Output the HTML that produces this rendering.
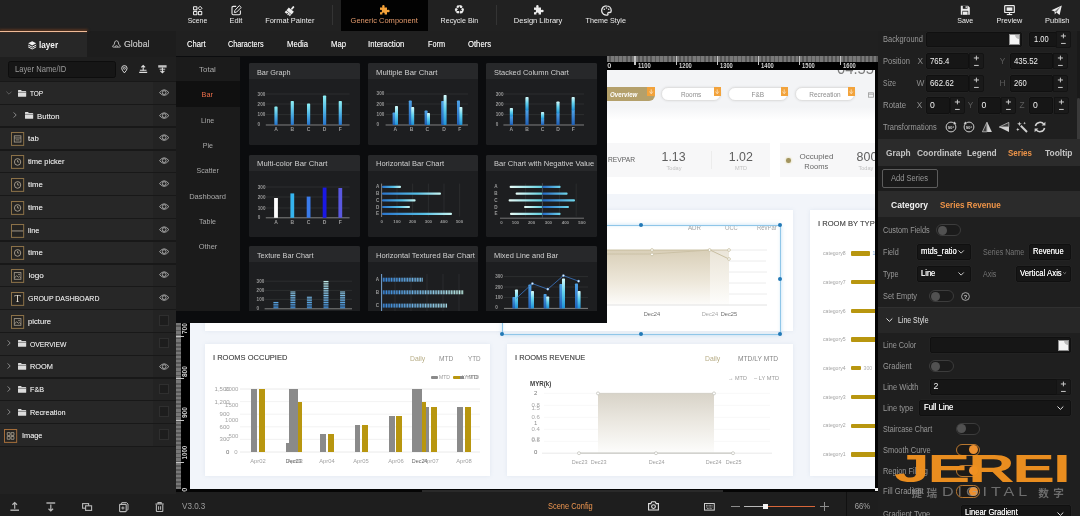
<!DOCTYPE html>
<html lang="en"><head><meta charset="utf-8"><title>Scene Editor</title>
<style>
html,body{margin:0;padding:0;}
body{width:1080px;height:516px;overflow:hidden;position:relative;background:#212121;font-family:"Liberation Sans", "Noto Sans CJK SC", sans-serif;}
div,svg{position:absolute;box-sizing:border-box;}
.t{white-space:nowrap;}
svg{overflow:visible;}
#app{left:0;top:0;width:1080px;height:516px;overflow:hidden;will-change:transform;}
</style></head><body><div id="app">
<!-- s_canvas -->
<div style="left:176px;top:56px;width:702px;height:438px;background:#050505;"></div>
<div style="left:607px;top:56px;width:271px;height:14px;background:#000;"></div>
<div style="left:607px;top:56px;width:271px;height:6px;background:repeating-linear-gradient(90deg,#787878 0,#787878 2.4px,#585858 2.4px,#585858 4.105px);"></div>
<div class="t" style="top:60.85px;font-size:7.3px;line-height:9.5px;color:#d0d0d0;font-weight:700;left:607.2px;">0</div>
<div style="left:634.45px;top:56px;width:1.2px;height:8.6px;background:#c4c4c4;"></div>
<div class="t" style="top:60.85px;font-size:7.3px;line-height:9.5px;color:#d0d0d0;font-weight:700;left:637.65px;"><span style="display:inline-block;transform:scaleX(0.81);transform-origin:0 50%;">1100</span></div>
<div style="left:675.5px;top:56px;width:1.2px;height:8.6px;background:#c4c4c4;"></div>
<div class="t" style="top:60.85px;font-size:7.3px;line-height:9.5px;color:#d0d0d0;font-weight:700;left:678.7px;"><span style="display:inline-block;transform:scaleX(0.79);transform-origin:0 50%;">1200</span></div>
<div style="left:716.55px;top:56px;width:1.2px;height:8.6px;background:#c4c4c4;"></div>
<div class="t" style="top:60.85px;font-size:7.3px;line-height:9.5px;color:#d0d0d0;font-weight:700;left:719.75px;"><span style="display:inline-block;transform:scaleX(0.79);transform-origin:0 50%;">1300</span></div>
<div style="left:757.6px;top:56px;width:1.2px;height:8.6px;background:#c4c4c4;"></div>
<div class="t" style="top:60.85px;font-size:7.3px;line-height:9.5px;color:#d0d0d0;font-weight:700;left:760.8px;"><span style="display:inline-block;transform:scaleX(0.79);transform-origin:0 50%;">1400</span></div>
<div style="left:798.65px;top:56px;width:1.2px;height:8.6px;background:#c4c4c4;"></div>
<div class="t" style="top:60.85px;font-size:7.3px;line-height:9.5px;color:#d0d0d0;font-weight:700;left:801.85px;"><span style="display:inline-block;transform:scaleX(0.79);transform-origin:0 50%;">1500</span></div>
<div style="left:839.7px;top:56px;width:1.2px;height:8.6px;background:#c4c4c4;"></div>
<div class="t" style="top:60.85px;font-size:7.3px;line-height:9.5px;color:#d0d0d0;font-weight:700;left:842.9px;"><span style="display:inline-block;transform:scaleX(0.79);transform-origin:0 50%;">1600</span></div>
<div style="left:880.75px;top:56px;width:1.2px;height:8.6px;background:#c4c4c4;"></div>
<div class="t" style="top:60.85px;font-size:7.3px;line-height:9.5px;color:#d0d0d0;font-weight:700;left:883.95px;"><span style="display:inline-block;transform:scaleX(0.79);transform-origin:0 50%;">1700</span></div>
<div style="left:190px;top:70px;width:685px;height:419px;overflow:hidden;"><div style="left:-190px;top:-70px;width:1080px;height:516px;"><div style="left:190px;top:70px;width:690px;height:420px;background:#f2f5fa;"></div>
<div style="left:190px;top:70px;width:690px;height:124px;background:#ffffff;"></div>
<div style="left:190px;top:70px;width:690px;height:50px;background:linear-gradient(180deg,#f3f4f6 0,#f3f4f6 74%,#ffffff 100%);"></div>
<div class="t" style="top:57.75px;font-size:17px;line-height:22.1px;color:#7a7a7a;left:837px;"><span style="display:inline-block;transform:scaleX(0.87);transform-origin:0 50%;">04:55</span></div>
<div style="left:540px;top:87px;width:114.6px;height:13.6px;background:#b4a06b;border-radius:0 4px 6px 0;"></div>
<div class="t" style="top:89.75px;font-size:7px;line-height:9.1px;color:#ffffff;font-weight:700;left:610.4px;font-style:italic;"><span style="display:inline-block;transform:scaleX(0.88);transform-origin:0 50%;">Overview</span></div>
<div style="left:647px;top:87px;width:7.6px;height:9px;background:#f2a33c;"><svg style="left:1.6px;top:1.6px;" width="4.4" height="5.6" viewBox="0 0 4.4 5.6"><path d="M2.2 0.4V3.6M0.6 2.6L2.2 4.8L3.8 2.6" fill="none" stroke="#fff" stroke-width="1" opacity="0.6"/></svg></div>
<div style="left:661px;top:87px;width:60.4px;height:13.6px;background:#ffffff;border:1px solid #e0e0e0;border-radius:7px;box-shadow:0 0 2.5px rgba(0,0,0,0.1);"></div>
<div class="t" style="top:89.75px;font-size:7px;line-height:9.1px;color:#8e8e8e;left:490.8px;width:400px;text-align:center;"><span style="display:inline-block;transform:scaleX(0.92);transform-origin:50% 50%;">Rooms</span></div>
<div style="left:713.6px;top:87px;width:7.6px;height:9px;background:#f2a33c;"><svg style="left:1.6px;top:1.6px;" width="4.4" height="5.6" viewBox="0 0 4.4 5.6"><path d="M2.2 0.4V3.6M0.6 2.6L2.2 4.8L3.8 2.6" fill="none" stroke="#fff" stroke-width="1" opacity="0.6"/></svg></div>
<div style="left:728px;top:87px;width:60.4px;height:13.6px;background:#ffffff;border:1px solid #e0e0e0;border-radius:7px;box-shadow:0 0 2.5px rgba(0,0,0,0.1);"></div>
<div class="t" style="top:89.75px;font-size:7px;line-height:9.1px;color:#8e8e8e;left:557.8px;width:400px;text-align:center;"><span style="display:inline-block;transform:scaleX(0.93);transform-origin:50% 50%;">F&amp;B</span></div>
<div style="left:780.6px;top:87px;width:7.6px;height:9px;background:#f2a33c;"><svg style="left:1.6px;top:1.6px;" width="4.4" height="5.6" viewBox="0 0 4.4 5.6"><path d="M2.2 0.4V3.6M0.6 2.6L2.2 4.8L3.8 2.6" fill="none" stroke="#fff" stroke-width="1" opacity="0.6"/></svg></div>
<div style="left:795px;top:87px;width:60.4px;height:13.6px;background:#ffffff;border:1px solid #e0e0e0;border-radius:7px;box-shadow:0 0 2.5px rgba(0,0,0,0.1);"></div>
<div class="t" style="top:89.75px;font-size:7px;line-height:9.1px;color:#8e8e8e;left:625.2px;width:400px;text-align:center;"><span style="display:inline-block;transform:scaleX(0.93);transform-origin:50% 50%;">Recreation</span></div>
<div style="left:847.6px;top:87px;width:7.6px;height:9px;background:#f2a33c;"><svg style="left:1.6px;top:1.6px;" width="4.4" height="5.6" viewBox="0 0 4.4 5.6"><path d="M2.2 0.4V3.6M0.6 2.6L2.2 4.8L3.8 2.6" fill="none" stroke="#fff" stroke-width="1" opacity="0.6"/></svg></div>
<svg style="left:868.4px;top:91.6px;" width="6" height="5.6" viewBox="0 0 6 5.6"><rect x="0.4" y="0.8" width="5.2" height="4.4" fill="none" stroke="#9a9a9a" stroke-width="0.8"/><path d="M0.4 2.2H5.6" stroke="#9a9a9a" stroke-width="0.8"/></svg>
<div style="left:520px;top:142.6px;width:250px;height:34.4px;background:#f7f7f8;"></div>
<div class="t" style="top:155.45px;font-size:7.6px;line-height:9.9px;color:#5c5c5c;left:607.6px;"><span style="display:inline-block;transform:scaleX(0.88);transform-origin:0 50%;">REVPAR</span></div>
<div class="t" style="top:148.95px;font-size:12.4px;line-height:16.1px;color:#5e5e5e;left:473.6px;width:400px;text-align:center;">1.13</div>
<div class="t" style="top:164.95px;font-size:5.6px;line-height:7.3px;color:#c2c2c2;left:474px;width:400px;text-align:center;">Today</div>
<div style="left:711px;top:151px;width:1px;height:18px;background:#ececec;"></div>
<div class="t" style="top:148.95px;font-size:12.4px;line-height:16.1px;color:#5e5e5e;left:540.8px;width:400px;text-align:center;">1.02</div>
<div class="t" style="top:164.95px;font-size:5.6px;line-height:7.3px;color:#c2c2c2;left:541px;width:400px;text-align:center;">MTD</div>
<div style="left:780px;top:142.6px;width:100px;height:34.4px;background:#f7f7f8;"></div>
<div style="left:786.2px;top:158.2px;width:4.6px;height:4.6px;background:#a2945f;border-radius:50%;box-shadow:0 0 2px 0.5px #e6dfb8;"></div>
<div class="t" style="top:152.15px;font-size:7.8px;line-height:10.1px;color:#686868;left:616.6px;width:400px;text-align:center;"><span style="display:inline-block;transform:scaleX(1.03);transform-origin:50% 50%;">Occupied</span></div>
<div class="t" style="top:162.15px;font-size:7.8px;line-height:10.1px;color:#686868;left:616.6px;width:400px;text-align:center;"><span style="display:inline-block;transform:scaleX(0.97);transform-origin:50% 50%;">Rooms</span></div>
<div class="t" style="top:148.95px;font-size:12.4px;line-height:16.1px;color:#5e5e5e;left:856.6px;">800</div>
<div class="t" style="top:164.95px;font-size:5.6px;line-height:7.3px;color:#c2c2c2;left:858.4px;">Today</div>
<div style="left:205px;top:210px;width:588px;height:121px;background:#ffffff;box-shadow:0 0 4px rgba(150,170,200,0.18);"></div>
<svg style="left:560px;top:240px;" width="215" height="70" viewBox="0 0 215 70"><defs><linearGradient id="ga" x1="0" y1="0" x2="0" y2="1"><stop offset="0" stop-color="#d9cfb8"/><stop offset="0.55" stop-color="#ece6d8"/><stop offset="1" stop-color="#fdfcfa"/></linearGradient></defs><path d="M169 10H207M169 21H206M169 32H207M169 43H206M169 54H207" stroke="#ececec" stroke-width="1"/><path d="M0 10H150V65H0Z" fill="url(#ga)"/><path d="M150 10L169 10L169 65H150Z" fill="url(#ga)" opacity="0.55"/><path d="M47 65H207" stroke="#e2e2e2" stroke-width="1"/><path d="M0 10H150L169 19" fill="none" stroke="#c5bb9c" stroke-width="0.9"/><path d="M0 14H92L150 10L169 10" fill="none" stroke="#c9c0a4" stroke-width="0.9"/><g fill="#fff" stroke="#c2b998" stroke-width="0.7"><circle cx="92" cy="10" r="1.4"/><circle cx="92" cy="14.4" r="1.4"/><circle cx="149.6" cy="10" r="1.4"/><circle cx="169" cy="10" r="1.4"/><circle cx="169" cy="19" r="1.4"/></g></svg>
<div class="t" style="top:224.15px;font-size:6.4px;line-height:8.3px;color:#a4a4a4;left:688.4px;"><span style="display:inline-block;transform:scaleX(0.96);transform-origin:0 50%;">ADR</span></div>
<div class="t" style="top:224.15px;font-size:6.4px;line-height:8.3px;color:#a4a4a4;left:725px;"><span style="display:inline-block;transform:scaleX(0.89);transform-origin:0 50%;">OCC</span></div>
<div class="t" style="top:224.15px;font-size:6.4px;line-height:8.3px;color:#a4a4a4;left:757px;"><span style="display:inline-block;transform:scaleX(0.92);transform-origin:0 50%;">RevPar</span></div>
<div class="t" style="top:309.95px;font-size:6.2px;line-height:8.1px;color:#6e6e6e;left:452px;width:400px;text-align:center;"><span style="display:inline-block;transform:scaleX(0.92);transform-origin:50% 50%;">Dec24</span></div>
<div class="t" style="top:309.95px;font-size:6.2px;line-height:8.1px;color:#a8a8a8;left:509.6px;width:400px;text-align:center;"><span style="display:inline-block;transform:scaleX(0.92);transform-origin:50% 50%;">Dec24</span></div>
<div class="t" style="top:309.95px;font-size:6.2px;line-height:8.1px;color:#6e6e6e;left:529px;width:400px;text-align:center;"><span style="display:inline-block;transform:scaleX(0.92);transform-origin:50% 50%;">Dec25</span></div>
<div style="left:502px;top:224.6px;width:278.6px;height:110px;border:1px solid #8fc6e8;box-shadow:0 0 4px rgba(130,190,232,0.5), inset 0 0 3px rgba(130,190,232,0.3);"></div>
<div style="left:639.2px;top:223px;width:4px;height:4px;background:#2279b6;border-radius:50%;"></div>
<div style="left:778.2px;top:223px;width:4px;height:4px;background:#2279b6;border-radius:50%;"></div>
<div style="left:778.2px;top:277.4px;width:4px;height:4px;background:#2279b6;border-radius:50%;"></div>
<div style="left:778.2px;top:332.2px;width:4px;height:4px;background:#2279b6;border-radius:50%;"></div>
<div style="left:639.2px;top:332.2px;width:4px;height:4px;background:#2279b6;border-radius:50%;"></div>
<div style="left:500.4px;top:332.2px;width:4px;height:4px;background:#2279b6;border-radius:50%;"></div>
<div style="left:810px;top:210px;width:80px;height:266.4px;background:#ffffff;box-shadow:0 0 4px rgba(150,170,200,0.18);"></div>
<div class="t" style="top:219.1px;font-size:8px;line-height:10.4px;color:#555555;left:817.6px;text-shadow:0 0 0.4px rgba(85,85,85,0.7);"><span style="display:inline-block;transform:scaleX(0.95);transform-origin:0 50%;">I ROOM BY TYPE</span></div>
<div class="t" style="top:250.15px;font-size:5.8px;line-height:7.5px;color:#a4a4a4;left:823px;"><span style="display:inline-block;transform:scaleX(0.89);transform-origin:0 50%;">category8</span></div>
<div style="left:851px;top:251.2px;width:19.4px;height:4.4px;background:#b8960f;border-radius:1px;"></div>
<div class="t" style="top:249.8px;font-size:5.2px;line-height:6.8px;color:#7fa6d8;left:872.4px;">1</div>
<div class="t" style="top:278.87px;font-size:5.8px;line-height:7.5px;color:#a4a4a4;left:823px;"><span style="display:inline-block;transform:scaleX(0.89);transform-origin:0 50%;">category7</span></div>
<div style="left:851px;top:279.92px;width:40px;height:4.4px;background:#b8960f;border-radius:1px;"></div>
<div class="t" style="top:307.59px;font-size:5.8px;line-height:7.5px;color:#a4a4a4;left:823px;"><span style="display:inline-block;transform:scaleX(0.89);transform-origin:0 50%;">category6</span></div>
<div style="left:851px;top:308.64px;width:40px;height:4.4px;background:#b8960f;border-radius:1px;"></div>
<div class="t" style="top:336.31px;font-size:5.8px;line-height:7.5px;color:#a4a4a4;left:823px;"><span style="display:inline-block;transform:scaleX(0.89);transform-origin:0 50%;">category5</span></div>
<div style="left:851px;top:337.36px;width:40px;height:4.4px;background:#b8960f;border-radius:1px;"></div>
<div class="t" style="top:365.03px;font-size:5.8px;line-height:7.5px;color:#a4a4a4;left:823px;"><span style="display:inline-block;transform:scaleX(0.89);transform-origin:0 50%;">category4</span></div>
<div style="left:851px;top:366.08px;width:10.4px;height:4.4px;background:#b8960f;border-radius:1px;"></div>
<div class="t" style="top:364.68px;font-size:5.2px;line-height:6.8px;color:#b0b0b0;left:863.6px;">300</div>
<div class="t" style="top:393.75px;font-size:5.8px;line-height:7.5px;color:#a4a4a4;left:823px;"><span style="display:inline-block;transform:scaleX(0.89);transform-origin:0 50%;">category3</span></div>
<div style="left:851px;top:394.8px;width:40px;height:4.4px;background:#b8960f;border-radius:1px;"></div>
<div class="t" style="top:422.47px;font-size:5.8px;line-height:7.5px;color:#a4a4a4;left:823px;"><span style="display:inline-block;transform:scaleX(0.89);transform-origin:0 50%;">category2</span></div>
<div style="left:851px;top:423.52px;width:40px;height:4.4px;background:#b8960f;border-radius:1px;"></div>
<div class="t" style="top:451.19px;font-size:5.8px;line-height:7.5px;color:#a4a4a4;left:823px;"><span style="display:inline-block;transform:scaleX(0.89);transform-origin:0 50%;">category1</span></div>
<div style="left:851px;top:452.24px;width:40px;height:4.4px;background:#b8960f;border-radius:1px;"></div>
<div style="left:205px;top:344px;width:285px;height:132.4px;background:#ffffff;box-shadow:0 0 4px rgba(150,170,200,0.18);"></div>
<div class="t" style="top:353.1px;font-size:8px;line-height:10.4px;color:#555555;left:212.8px;text-shadow:0 0 0.4px rgba(85,85,85,0.7);"><span style="display:inline-block;transform:scaleX(0.94);transform-origin:0 50%;">I ROOMS OCCUPIED</span></div>
<div class="t" style="top:354.6px;font-size:6.8px;line-height:8.8px;color:#b7ad86;left:410px;"><span>Daily</span></div>
<div class="t" style="top:354.6px;font-size:6.8px;line-height:8.8px;color:#8e8e8e;left:438.6px;"><span style="display:inline-block;transform:scaleX(0.98);transform-origin:0 50%;">MTD</span></div>
<div class="t" style="top:354.6px;font-size:6.8px;line-height:8.8px;color:#8e8e8e;left:468px;"><span style="display:inline-block;transform:scaleX(0.93);transform-origin:0 50%;">YTD</span></div>
<div style="left:431px;top:375.6px;width:7.4px;height:3px;background:#8a8a8a;border-radius:1px;"></div>
<div class="t" style="top:373.55px;font-size:5.6px;line-height:7.3px;color:#9a9a9a;left:439.4px;"><span style="display:inline-block;transform:scaleX(0.91);transform-origin:0 50%;">MTD</span></div>
<div style="left:453px;top:375.6px;width:8.4px;height:3px;background:#b8960f;border-radius:1px;"></div>
<div style="left:460px;top:375.8px;width:3.6px;height:2.8px;background:#8a8a8a;"></div>
<div class="t" style="top:373.55px;font-size:5.6px;line-height:7.3px;color:#8a8a8a;left:462.4px;"><span style="display:inline-block;transform:scaleX(0.85);transform-origin:0 50%;">LY MTD</span></div>
<div class="t" style="top:373.75px;font-size:5.6px;line-height:7.3px;color:#8a8a8a;left:465.8px;"><span style="display:inline-block;transform:scaleX(1.07);transform-origin:0 50%;">YTD</span></div>
<svg style="left:0px;top:0px;" width="1" height="1" viewBox="0 0 1 1"><path d="M240 389H480" stroke="#e4e4e4" stroke-width="0.8"/><path d="M240 401.6H480" stroke="#efefef" stroke-width="0.8"/><path d="M240 414.2H480" stroke="#efefef" stroke-width="0.8"/><path d="M240 426.8H480" stroke="#efefef" stroke-width="0.8"/><path d="M240 439.4H480" stroke="#efefef" stroke-width="0.8"/><path d="M240 452H480" stroke="#e4e4e4" stroke-width="0.8"/></svg>
<div class="t" style="top:385.7px;font-size:6px;line-height:7.8px;color:#9c9c9c;left:-170.4px;width:400px;text-align:right;">1,500</div>
<div class="t" style="top:398.7px;font-size:6px;line-height:7.8px;color:#9c9c9c;left:-170.4px;width:400px;text-align:right;">1,200</div>
<div class="t" style="top:411.3px;font-size:6px;line-height:7.8px;color:#9c9c9c;left:-170.4px;width:400px;text-align:right;">900</div>
<div class="t" style="top:423.9px;font-size:6px;line-height:7.8px;color:#9c9c9c;left:-170.4px;width:400px;text-align:right;">600</div>
<div class="t" style="top:436.3px;font-size:6px;line-height:7.8px;color:#9c9c9c;left:-170.4px;width:400px;text-align:right;">300</div>
<div class="t" style="top:385.5px;font-size:6px;line-height:7.8px;color:#a6a6a6;left:-161.6px;width:400px;text-align:right;">2000</div>
<div class="t" style="top:401.7px;font-size:6px;line-height:7.8px;color:#a6a6a6;left:-161.6px;width:400px;text-align:right;">1500</div>
<div class="t" style="top:417.3px;font-size:6px;line-height:7.8px;color:#a6a6a6;left:-161.6px;width:400px;text-align:right;">1000</div>
<div class="t" style="top:432.7px;font-size:6px;line-height:7.8px;color:#a6a6a6;left:-161.6px;width:400px;text-align:right;">500</div>
<div class="t" style="top:449.1px;font-size:6px;line-height:7.8px;color:#6a6a6a;left:-170.6px;width:400px;text-align:right;">0</div>
<div class="t" style="top:449.1px;font-size:6px;line-height:7.8px;color:#a6a6a6;left:-162.4px;width:400px;text-align:right;">0</div>
<div style="left:251.3px;top:389px;width:6.2px;height:63.2px;background:#8a8a8a;"></div>
<div style="left:259.2px;top:389px;width:6px;height:63.2px;background:#b8960f;"></div>
<div style="left:286px;top:443px;width:3.4px;height:9.2px;background:#8a8a8a;"></div>
<div style="left:289px;top:389px;width:9.2px;height:63.2px;background:#8a8a8a;"></div>
<div style="left:297.8px;top:402px;width:4px;height:50.2px;background:#b8960f;"></div>
<div style="left:320px;top:434px;width:6px;height:18.2px;background:#8a8a8a;"></div>
<div style="left:328px;top:434px;width:6px;height:18.2px;background:#b8960f;"></div>
<div style="left:354.6px;top:425px;width:5.8px;height:27.2px;background:#8a8a8a;"></div>
<div style="left:362.2px;top:425px;width:5.8px;height:27.2px;background:#b8960f;"></div>
<div style="left:388.8px;top:416px;width:5.8px;height:36.2px;background:#8a8a8a;"></div>
<div style="left:396.4px;top:416px;width:5.8px;height:36.2px;background:#b8960f;"></div>
<div style="left:412.4px;top:389px;width:9.8px;height:63.2px;background:#8a8a8a;"></div>
<div style="left:421.8px;top:402px;width:4.2px;height:50.2px;background:#b8960f;"></div>
<div style="left:425.6px;top:407px;width:3.4px;height:45.2px;background:#8a8a8a;"></div>
<div style="left:431px;top:407px;width:5.6px;height:45.2px;background:#b8960f;"></div>
<div style="left:457.4px;top:407px;width:5.8px;height:45.2px;background:#8a8a8a;"></div>
<div style="left:465px;top:407px;width:6px;height:45.2px;background:#b8960f;"></div>
<div class="t" style="top:457.7px;font-size:6px;line-height:7.8px;color:#a2a2a2;left:58px;width:400px;text-align:center;"><span style="display:inline-block;transform:scaleX(0.97);transform-origin:50% 50%;">Apr02</span></div>
<div class="t" style="top:457.7px;font-size:6px;line-height:7.8px;color:#666;left:93.4px;width:400px;text-align:center;"><span style="display:inline-block;transform:scaleX(0.9);transform-origin:50% 50%;">Dec23</span></div>
<div class="t" style="top:457.7px;font-size:6px;line-height:7.8px;color:#9a9a9a;left:95.4px;width:400px;text-align:center;"><span style="display:inline-block;transform:scaleX(0.97);transform-origin:50% 50%;">Apr03</span></div>
<div class="t" style="top:457.7px;font-size:6px;line-height:7.8px;color:#a2a2a2;left:127.2px;width:400px;text-align:center;"><span style="display:inline-block;transform:scaleX(0.97);transform-origin:50% 50%;">Apr04</span></div>
<div class="t" style="top:457.7px;font-size:6px;line-height:7.8px;color:#a2a2a2;left:161.4px;width:400px;text-align:center;"><span style="display:inline-block;transform:scaleX(0.97);transform-origin:50% 50%;">Apr05</span></div>
<div class="t" style="top:457.7px;font-size:6px;line-height:7.8px;color:#a2a2a2;left:195.6px;width:400px;text-align:center;"><span style="display:inline-block;transform:scaleX(0.97);transform-origin:50% 50%;">Apr06</span></div>
<div class="t" style="top:457.7px;font-size:6px;line-height:7.8px;color:#666;left:219.6px;width:400px;text-align:center;"><span style="display:inline-block;transform:scaleX(0.9);transform-origin:50% 50%;">Dec24</span></div>
<div class="t" style="top:457.7px;font-size:6px;line-height:7.8px;color:#a2a2a2;left:230.6px;width:400px;text-align:center;"><span style="display:inline-block;transform:scaleX(0.97);transform-origin:50% 50%;">Apr07</span></div>
<div class="t" style="top:457.7px;font-size:6px;line-height:7.8px;color:#a2a2a2;left:264.2px;width:400px;text-align:center;"><span style="display:inline-block;transform:scaleX(0.97);transform-origin:50% 50%;">Apr08</span></div>
<div style="left:507.4px;top:344px;width:285.6px;height:132.4px;background:#ffffff;box-shadow:0 0 4px rgba(150,170,200,0.18);"></div>
<div class="t" style="top:353.1px;font-size:8px;line-height:10.4px;color:#555555;left:515.2px;text-shadow:0 0 0.4px rgba(85,85,85,0.7);"><span style="display:inline-block;transform:scaleX(0.93);transform-origin:0 50%;">I ROOMS REVENUE</span></div>
<div class="t" style="top:354.6px;font-size:6.8px;line-height:8.8px;color:#b7ad86;left:705px;"><span>Daily</span></div>
<div class="t" style="top:354.6px;font-size:6.8px;line-height:8.8px;color:#858585;left:737.8px;"><span style="display:inline-block;transform:scaleX(0.98);transform-origin:0 50%;">MTD/LY MTD</span></div>
<div class="t" style="top:375.45px;font-size:5.8px;line-height:7.5px;color:#9a9a9a;left:728.2px;"><span style="display:inline-block;transform:scaleX(0.95);transform-origin:0 50%;">→ MTD</span></div>
<div class="t" style="top:375.45px;font-size:5.8px;line-height:7.5px;color:#9a9a9a;left:754.4px;"><span style="display:inline-block;transform:scaleX(0.98);transform-origin:0 50%;">– LY MTD</span></div>
<div class="t" style="top:379.9px;font-size:6.8px;line-height:8.8px;color:#404040;font-weight:700;left:530px;"><span style="display:inline-block;transform:scaleX(0.91);transform-origin:0 50%;">MYR(k)</span></div>
<svg style="left:520px;top:385px;" width="260" height="75" viewBox="0 0 260 75"><defs><linearGradient id="gb" x1="0" y1="0" x2="0" y2="1"><stop offset="0" stop-color="#d8d3c8"/><stop offset="0.5" stop-color="#ece9e2"/><stop offset="1" stop-color="#fdfdfc"/></linearGradient></defs><path d="M24 8.4H250M24 20.4H250M24 32.4H250M24 44.4H250M24 56.4H250" stroke="#f6f6f6" stroke-width="0.8"/><path d="M78 8.4H194V68.2H78Z" fill="url(#gb)"/><path d="M22 68.2H252" stroke="#e6e6e6" stroke-width="0.9"/><path d="M59 68.2H213" stroke="#c9c9c3" stroke-width="1.2"/><path d="M78 8.4H194" stroke="#d3cfc6" stroke-width="1"/><g fill="#fff" stroke="#bdbdb6" stroke-width="0.7"><circle cx="59" cy="68.2" r="1.5"/><circle cx="136" cy="68.2" r="1.5"/><circle cx="213" cy="68.2" r="1.5"/><circle cx="78" cy="8.4" r="1.5"/><circle cx="194" cy="8.4" r="1.5"/></g></svg>
<div class="t" style="top:389.5px;font-size:6px;line-height:7.8px;color:#7a7a7a;left:335.6px;width:400px;text-align:center;">2</div>
<div class="t" style="top:402.3px;font-size:6px;line-height:7.8px;color:#a8a8a8;left:335.6px;width:400px;text-align:center;">0.8</div>
<div class="t" style="top:404.5px;font-size:6px;line-height:7.8px;color:#a8a8a8;left:335.6px;width:400px;text-align:center;">1.5</div>
<div class="t" style="top:414.1px;font-size:6px;line-height:7.8px;color:#a8a8a8;left:335.6px;width:400px;text-align:center;">0.6</div>
<div class="t" style="top:419.5px;font-size:6px;line-height:7.8px;color:#909090;left:335.6px;width:400px;text-align:center;">1</div>
<div class="t" style="top:425.7px;font-size:6px;line-height:7.8px;color:#a8a8a8;left:335.6px;width:400px;text-align:center;">0.4</div>
<div class="t" style="top:435.5px;font-size:6px;line-height:7.8px;color:#a8a8a8;left:335.6px;width:400px;text-align:center;">0.2</div>
<div class="t" style="top:437.3px;font-size:6px;line-height:7.8px;color:#a8a8a8;left:335.6px;width:400px;text-align:center;">0.5</div>
<div class="t" style="top:449.3px;font-size:6px;line-height:7.8px;color:#6a6a6a;left:335.6px;width:400px;text-align:center;">0</div>
<div class="t" style="top:458.5px;font-size:6px;line-height:7.8px;color:#9e9e9e;left:379.4px;width:400px;text-align:center;"><span style="display:inline-block;transform:scaleX(0.91);transform-origin:50% 50%;">Dec23</span></div>
<div class="t" style="top:458.5px;font-size:6px;line-height:7.8px;color:#9e9e9e;left:398.6px;width:400px;text-align:center;"><span style="display:inline-block;transform:scaleX(0.91);transform-origin:50% 50%;">Dec23</span></div>
<div class="t" style="top:458.5px;font-size:6px;line-height:7.8px;color:#9e9e9e;left:456.2px;width:400px;text-align:center;"><span style="display:inline-block;transform:scaleX(0.91);transform-origin:50% 50%;">Dec24</span></div>
<div class="t" style="top:458.5px;font-size:6px;line-height:7.8px;color:#9e9e9e;left:514px;width:400px;text-align:center;"><span style="display:inline-block;transform:scaleX(0.91);transform-origin:50% 50%;">Dec24</span></div>
<div class="t" style="top:458.5px;font-size:6px;line-height:7.8px;color:#9e9e9e;left:533.4px;width:400px;text-align:center;"><span style="display:inline-block;transform:scaleX(0.91);transform-origin:50% 50%;">Dec25</span></div></div></div>
<div style="left:176px;top:323px;width:14px;height:166.4px;background:#000;"></div>
<div style="left:176px;top:323px;width:5.4px;height:166.4px;background:repeating-linear-gradient(180deg,#787878 0,#787878 2.4px,#585858 2.4px,#585858 4.105px);"></div>
<div class="t" style="top:324.1px;font-size:7.4px;line-height:9.6px;color:#d0d0d0;font-weight:700;left:-14.6px;width:400px;text-align:center;transform:rotate(-90deg);transform-origin:50% 50%;"><span style="display:inline-block;transform:scaleX(0.88);transform-origin:50% 50%;">700</span></div>
<div class="t" style="top:366.5px;font-size:7.4px;line-height:9.6px;color:#d0d0d0;font-weight:700;left:-14.6px;width:400px;text-align:center;transform:rotate(-90deg);transform-origin:50% 50%;"><span style="display:inline-block;transform:scaleX(0.88);transform-origin:50% 50%;">800</span></div>
<div class="t" style="top:408.1px;font-size:7.4px;line-height:9.6px;color:#d0d0d0;font-weight:700;left:-14.6px;width:400px;text-align:center;transform:rotate(-90deg);transform-origin:50% 50%;"><span style="display:inline-block;transform:scaleX(0.88);transform-origin:50% 50%;">900</span></div>
<div class="t" style="top:448.4px;font-size:7.4px;line-height:9.6px;color:#d0d0d0;font-weight:700;left:-14.6px;width:400px;text-align:center;transform:rotate(-90deg);transform-origin:50% 50%;"><span style="display:inline-block;transform:scaleX(0.83);transform-origin:50% 50%;">1000</span></div>
<div class="t" style="top:485.2px;font-size:7.4px;line-height:9.6px;color:#d0d0d0;font-weight:700;left:-14.6px;width:400px;text-align:center;transform:rotate(-90deg);transform-origin:50% 50%;">0</div>
<div style="left:176px;top:336px;width:7.8px;height:1.2px;background:#c4c4c4;"></div>
<div style="left:176px;top:377.9px;width:7.8px;height:1.2px;background:#c4c4c4;"></div>
<div style="left:176px;top:419.7px;width:7.8px;height:1.2px;background:#c4c4c4;"></div>
<div style="left:176px;top:461.6px;width:7.8px;height:1.2px;background:#c4c4c4;"></div>
<!-- s_top -->
<div style="left:0px;top:0px;width:1080px;height:31px;background:#212121;"></div>
<div style="left:341px;top:0px;width:86.8px;height:31px;background:#020202;"></div>
<div style="left:332px;top:5px;width:1px;height:20px;background:#343434;"></div>
<div style="left:496px;top:5px;width:1px;height:20px;background:#343434;"></div>
<svg style="left:192.5px;top:5.7px;" width="9.4" height="9.2" viewBox="0 0 10.4 10.2"><rect x="0.6" y="0.9" width="3.7" height="3.4" rx="0.4" fill="none" stroke="#ececec" stroke-width="1.15"/><rect x="0.6" y="6.2" width="3.7" height="3.4" rx="0.4" fill="none" stroke="#ececec" stroke-width="1.15"/><rect x="6.0" y="6.2" width="3.7" height="3.4" rx="0.4" fill="none" stroke="#ececec" stroke-width="1.15"/><path d="M7.85 0.3L10 2.5L7.85 4.7L5.7 2.5Z" fill="none" stroke="#ececec" stroke-width="1.1"/></svg>
<div class="t" style="top:15.85px;font-size:8.1px;line-height:10.5px;color:#ececec;left:-2.8px;width:400px;text-align:center;"><span style="display:inline-block;transform:scaleX(0.85);transform-origin:50% 50%;">Scene</span></div>
<svg style="left:231px;top:4.8px;" width="10.8" height="10.4" viewBox="0 0 10.8 10.4"><path d="M5.2 1.4H2.2Q1 1.4 1 2.6V8.6Q1 9.8 2.2 9.8H8.2Q9.4 9.8 9.4 8.6V5.6" fill="none" stroke="#ececec" stroke-width="1.1"/><path d="M8.3 0.6L10.2 2.5L5.6 7.1L3.4 7.6L3.9 5.4Z" fill="none" stroke="#ececec" stroke-width="1"/></svg>
<div class="t" style="top:15.85px;font-size:8.1px;line-height:10.5px;color:#ececec;left:36.4px;width:400px;text-align:center;"><span style="display:inline-block;transform:scaleX(0.92);transform-origin:50% 50%;">Edit</span></div>
<svg style="left:284.7px;top:4.5px;" width="11" height="11" viewBox="0 0 11 11"><g transform="rotate(40 5.5 5.5)"><rect x="2.2" y="4.2" width="6.6" height="3.6" fill="#ececec"/><rect x="4.6" y="0.2" width="1.8" height="4" rx="0.6" fill="#ececec"/><path d="M2.2 8.4H8.8V10.4H7.6V9.4H6.8V10.8H5.6V9.4H4.6V10.6H2.2Z" fill="#ececec"/></g></svg>
<div class="t" style="top:15.85px;font-size:8.1px;line-height:10.5px;color:#ececec;left:90.2px;width:400px;text-align:center;"><span style="display:inline-block;transform:scaleX(0.92);transform-origin:50% 50%;">Format Painter</span></div>
<svg style="left:379px;top:4.4px;" width="11.4" height="11.4" viewBox="0 0 11.4 11.4"><path d="M1 3.6H3.4Q2.6 1 4.4 0.9Q6.2 1 5.4 3.6H8V6Q10.6 5.2 10.7 7Q10.6 8.8 8 8V10.6H5.6Q6.2 8.6 4.5 8.6Q2.8 8.6 3.4 10.6H1V8Q3 8.7 3 7Q3 5.3 1 6Z" fill="#f6a33a"/></svg>
<div class="t" style="top:15.85px;font-size:8.1px;line-height:10.5px;color:#e39a6c;left:184.6px;width:400px;text-align:center;"><span style="display:inline-block;transform:scaleX(0.93);transform-origin:50% 50%;">Generic Component</span></div>
<div class="t" style="top:1.9px;font-size:12.5px;line-height:16.2px;color:#ececec;font-family:'DejaVu Sans', sans-serif;left:259.7px;width:400px;text-align:center;">♻</div>
<div class="t" style="top:15.85px;font-size:8.1px;line-height:10.5px;color:#ececec;left:259.7px;width:400px;text-align:center;"><span style="display:inline-block;transform:scaleX(0.88);transform-origin:50% 50%;">Recycle Bin</span></div>
<svg style="left:532.7px;top:4.4px;" width="11.4" height="11.4" viewBox="0 0 11.4 11.4"><path d="M1 3.6H3.4Q2.6 1 4.4 0.9Q6.2 1 5.4 3.6H8V6Q10.6 5.2 10.7 7Q10.6 8.8 8 8V10.6H5.6Q6.2 8.6 4.5 8.6Q2.8 8.6 3.4 10.6H1V8Q3 8.7 3 7Q3 5.3 1 6Z" fill="#ececec"/></svg>
<div class="t" style="top:15.85px;font-size:8.1px;line-height:10.5px;color:#ececec;left:338.3px;width:400px;text-align:center;"><span style="display:inline-block;transform:scaleX(0.93);transform-origin:50% 50%;">Design Library</span></div>
<svg style="left:600.5px;top:4.5px;" width="11" height="11" viewBox="0 0 11 11"><path d="M5.5 0.8A4.7 4.7 0 1 0 6.3 10.1Q7.3 9.9 6.9 8.9Q6.5 7.5 7.9 7.5H9Q10.3 7.4 10.2 5.5A4.7 4.7 0 0 0 5.5 0.8Z" fill="none" stroke="#ececec" stroke-width="1.3"/><circle cx="3.3" cy="4.3" r="0.8" fill="#ececec"/><circle cx="5.5" cy="3" r="0.8" fill="#ececec"/><circle cx="7.7" cy="4.3" r="0.8" fill="#ececec"/></svg>
<div class="t" style="top:15.85px;font-size:8.1px;line-height:10.5px;color:#ececec;left:406px;width:400px;text-align:center;"><span style="display:inline-block;transform:scaleX(0.89);transform-origin:50% 50%;">Theme Style</span></div>
<svg style="left:960.1px;top:4.7px;" width="10.6" height="10.6" viewBox="0 0 10.6 10.6"><path d="M0.8 0.8H8L9.8 2.6V9.8H0.8Z" fill="#ececec"/><rect x="2.8" y="0.8" width="4.6" height="3" fill="#212121"/><rect x="5.6" y="1.2" width="1.2" height="2" fill="#ececec"/><rect x="2.4" y="5.8" width="5.8" height="4" fill="#212121"/><rect x="3" y="6.6" width="4.6" height="3.2" fill="#ececec"/></svg>
<div class="t" style="top:15.85px;font-size:8.1px;line-height:10.5px;color:#ececec;left:765.4px;width:400px;text-align:center;"><span style="display:inline-block;transform:scaleX(0.87);transform-origin:50% 50%;">Save</span></div>
<svg style="left:1003.7px;top:4.7px;" width="11" height="10.6" viewBox="0 0 11 10.6"><rect x="0.7" y="0.7" width="9.6" height="6.8" rx="0.6" fill="none" stroke="#ececec" stroke-width="1.2"/><rect x="2.6" y="2.4" width="5.8" height="3.4" fill="#ececec"/><rect x="4.9" y="7.6" width="1.2" height="1.6" fill="#ececec"/><rect x="2.8" y="9" width="5.4" height="1.1" fill="#ececec"/></svg>
<div class="t" style="top:15.85px;font-size:8.1px;line-height:10.5px;color:#ececec;left:809.2px;width:400px;text-align:center;"><span style="display:inline-block;transform:scaleX(0.9);transform-origin:50% 50%;">Preview</span></div>
<svg style="left:1051.2px;top:4.7px;" width="11.2" height="10.6" viewBox="0 0 11.2 10.6"><path d="M0.4 5.2L10.8 0.6L8.6 10L5.4 7.4L3.8 9.6L3.6 6.6Z" fill="#ececec"/><path d="M3.6 6.6L9.6 1.6L5.4 7.4Z" fill="#212121" opacity="0.55"/></svg>
<div class="t" style="top:15.85px;font-size:8.1px;line-height:10.5px;color:#ececec;left:856.8px;width:400px;text-align:center;"><span style="display:inline-block;transform:scaleX(0.92);transform-origin:50% 50%;">Publish</span></div>
<!-- s_left -->
<div style="left:0px;top:31px;width:176px;height:485px;background:#222222;"></div>
<div style="left:0px;top:31px;width:86.5px;height:25.5px;background:#272727;"></div>
<div style="left:86.5px;top:31px;width:89px;height:25.5px;background:#1d1d1d;"></div>
<div style="left:0px;top:30.6px;width:86.5px;height:1.1px;background:#f0bc98;box-shadow:0 -1px 2.5px 0.6px rgba(170,80,30,0.55);"></div>
<svg style="left:27.6px;top:41px;" width="8.4" height="8.6" viewBox="0 0 8.4 8.6"><path d="M4.2 0.2L8.2 2.3L4.2 4.4L0.2 2.3Z" fill="#f2f2f2"/><path d="M0.2 4.1L4.2 6.2L8.2 4.1M0.2 5.9L4.2 8L8.2 5.9" fill="none" stroke="#f2f2f2" stroke-width="1"/></svg>
<div class="t" style="top:39px;font-size:9.2px;line-height:12px;color:#f4f4f4;font-weight:700;left:38.6px;"><span style="display:inline-block;transform:scaleX(0.89);transform-origin:0 50%;">layer</span></div>
<svg style="left:112.2px;top:40.4px;" width="9" height="7.8" viewBox="0 0 9 7.8"><path d="M2.3 4.2Q2.3 0.7 4.5 0.7Q6.7 0.7 6.7 4.2L8.3 6.1Q8.7 7.1 7.7 7.1H1.3Q0.3 7.1 0.7 6.1Z" fill="none" stroke="#b4b4b4" stroke-width="1"/><path d="M3.3 7.1V6.1Q4.5 5.1 5.7 6.1V7.1" fill="none" stroke="#b4b4b4" stroke-width="0.9"/></svg>
<div class="t" style="top:38.4px;font-size:9.2px;line-height:12px;color:#b6b6b6;left:124px;text-shadow:0 0 0.6px #b6b6b6;"><span style="display:inline-block;transform:scaleX(0.96);transform-origin:0 50%;">Global</span></div>
<div style="left:0px;top:56.5px;width:175.6px;height:24.6px;background:#1f1f1f;"></div>
<div style="left:8px;top:60.6px;width:107.5px;height:17.6px;background:#161616;border:1px solid #0d0d0d;border-radius:2.5px;"></div>
<div class="t" style="top:63.85px;font-size:8.4px;line-height:10.9px;color:#9c9c9c;left:14.8px;"><span style="display:inline-block;transform:scaleX(0.91);transform-origin:0 50%;">Layer Name/ID</span></div>
<svg style="left:121.4px;top:64.8px;" width="6.8" height="8.6" viewBox="0 0 6.8 8.6"><path d="M3.4 0.6A2.7 2.7 0 0 1 6.1 3.3Q6.1 5 3.4 7.9Q0.7 5 0.7 3.3A2.7 2.7 0 0 1 3.4 0.6Z" fill="none" stroke="#dedede" stroke-width="0.95"/><circle cx="3.4" cy="3.3" r="1" fill="none" stroke="#dedede" stroke-width="0.8"/></svg>
<svg style="left:139.4px;top:65.2px;" width="8.4" height="8" viewBox="0 0 8.4 8"><path d="M4.2 0.5V5.4M2.3 2.4L4.2 0.5L6.1 2.4" fill="none" stroke="#dedede" stroke-width="1.1"/><path d="M0.9 5.2H7.5M0.2 7.4H8.2" fill="none" stroke="#dedede" stroke-width="1.1"/></svg>
<svg style="left:158px;top:65px;" width="8.8" height="8.2" viewBox="0 0 8.8 8.2"><path d="M0.2 1.4H8.6" fill="none" stroke="#dedede" stroke-width="2.4" opacity="0.85"/><path d="M4.4 2.6V7.8M2.4 5.8L4.4 7.8L6.4 5.8" fill="none" stroke="#dedede" stroke-width="1.1"/><path d="M1.6 4.2H7.2" stroke="#dedede" stroke-width="0.9"/></svg>
<div style="left:0px;top:80.6px;width:175.6px;height:366.36px;background:#181818;"></div>
<div style="left:0px;top:82.1px;width:152.8px;height:21.51px;background:#272727;"></div>
<div style="left:152.8px;top:82.1px;width:22.8px;height:21.51px;background:#232323;"></div>
<svg style="left:5.6px;top:90.91px;" width="6" height="4" viewBox="0 0 6 4"><path d="M0.4 0.6L3 3.2L5.6 0.6" fill="none" stroke="#5c5c5c" stroke-width="1"/></svg>
<svg style="left:18.2px;top:89.51px;" width="8.2" height="6.8" viewBox="0 0 8.2 6.8"><path d="M0 0.6Q0 0 0.6 0H3L3.9 1.1H7.6Q8.2 1.1 8.2 1.7V6.2Q8.2 6.8 7.6 6.8H0.6Q0 6.8 0 6.2Z" fill="#dcdcdc"/><rect x="0" y="1.9" width="8.2" height="0.7" fill="#262626" opacity="0.7"/></svg>
<div class="t" style="top:88.75px;font-size:8.1px;line-height:10.5px;color:#e2e2e2;left:30.4px;text-shadow:0 0 0.4px rgba(226,226,226,0.6);"><span style="display:inline-block;transform:scaleX(0.8);transform-origin:0 50%;">TOP</span></div>
<svg style="left:159px;top:88.81px;" width="10.4" height="7.2" viewBox="0 0 10.4 7.2"><path d="M0.5 3.6Q5.2 -2 9.9 3.6Q5.2 9.2 0.5 3.6Z" fill="none" stroke="#ababab" stroke-width="0.9"/><circle cx="5.2" cy="3.6" r="1.9" fill="none" stroke="#ababab" stroke-width="0.9"/></svg>
<div style="left:0px;top:104.91px;width:152.8px;height:21.51px;background:#272727;"></div>
<div style="left:152.8px;top:104.91px;width:22.8px;height:21.51px;background:#232323;"></div>
<svg style="left:13px;top:112.31px;" width="4" height="6" viewBox="0 0 4 6"><path d="M0.6 0.4L3.2 3L0.6 5.6" fill="none" stroke="#8a8a8a" stroke-width="1"/></svg>
<svg style="left:25px;top:112.32px;" width="8.2" height="6.8" viewBox="0 0 8.2 6.8"><path d="M0 0.6Q0 0 0.6 0H3L3.9 1.1H7.6Q8.2 1.1 8.2 1.7V6.2Q8.2 6.8 7.6 6.8H0.6Q0 6.8 0 6.2Z" fill="#dcdcdc"/><rect x="0" y="1.9" width="8.2" height="0.7" fill="#262626" opacity="0.7"/></svg>
<div class="t" style="top:111.56px;font-size:8.1px;line-height:10.5px;color:#e2e2e2;left:36.6px;text-shadow:0 0 0.4px rgba(226,226,226,0.6);"><span style="display:inline-block;transform:scaleX(0.96);transform-origin:0 50%;">Button</span></div>
<svg style="left:159px;top:111.62px;" width="10.4" height="7.2" viewBox="0 0 10.4 7.2"><path d="M0.5 3.6Q5.2 -2 9.9 3.6Q5.2 9.2 0.5 3.6Z" fill="none" stroke="#ababab" stroke-width="0.9"/><circle cx="5.2" cy="3.6" r="1.9" fill="none" stroke="#ababab" stroke-width="0.9"/></svg>
<div style="left:0px;top:127.72px;width:152.8px;height:21.51px;background:#272727;"></div>
<div style="left:152.8px;top:127.72px;width:22.8px;height:21.51px;background:#232323;"></div>
<svg style="left:11px;top:132.38px;" width="13.2" height="13.9" viewBox="0 0 13 13" preserveAspectRatio="none"><rect x="0.5" y="0.5" width="12" height="12" fill="#242321" stroke="#8e744a" stroke-width="0.95"/><rect x="3.2" y="3.6" width="6.6" height="5.8" fill="none" stroke="#aaa192" stroke-width="0.8"/><path d="M3.2 5.6H9.8M4.6 7.4H8.4" stroke="#aaa192" stroke-width="0.8"/></svg>
<div class="t" style="top:134.38px;font-size:8.1px;line-height:10.5px;color:#e2e2e2;left:28.4px;text-shadow:0 0 0.4px rgba(226,226,226,0.6);"><span style="display:inline-block;transform:scaleX(0.95);transform-origin:0 50%;">tab</span></div>
<svg style="left:159px;top:134.43px;" width="10.4" height="7.2" viewBox="0 0 10.4 7.2"><path d="M0.5 3.6Q5.2 -2 9.9 3.6Q5.2 9.2 0.5 3.6Z" fill="none" stroke="#ababab" stroke-width="0.9"/><circle cx="5.2" cy="3.6" r="1.9" fill="none" stroke="#ababab" stroke-width="0.9"/></svg>
<div style="left:0px;top:150.53px;width:152.8px;height:21.51px;background:#272727;"></div>
<div style="left:152.8px;top:150.53px;width:22.8px;height:21.51px;background:#232323;"></div>
<svg style="left:11px;top:155.18px;" width="13.2" height="13.9" viewBox="0 0 13 13" preserveAspectRatio="none"><rect x="0.5" y="0.5" width="12" height="12" fill="#242321" stroke="#8e744a" stroke-width="0.95"/><circle cx="6.5" cy="6.5" r="3.1" fill="none" stroke="#aaa192" stroke-width="0.9"/><path d="M6.5 4.6V6.6H8" fill="none" stroke="#aaa192" stroke-width="0.8"/></svg>
<div class="t" style="top:157.18px;font-size:8.1px;line-height:10.5px;color:#e2e2e2;left:28.4px;text-shadow:0 0 0.4px rgba(226,226,226,0.6);"><span style="display:inline-block;transform:scaleX(0.93);transform-origin:0 50%;">time picker</span></div>
<svg style="left:159px;top:157.23px;" width="10.4" height="7.2" viewBox="0 0 10.4 7.2"><path d="M0.5 3.6Q5.2 -2 9.9 3.6Q5.2 9.2 0.5 3.6Z" fill="none" stroke="#ababab" stroke-width="0.9"/><circle cx="5.2" cy="3.6" r="1.9" fill="none" stroke="#ababab" stroke-width="0.9"/></svg>
<div style="left:0px;top:173.34px;width:152.8px;height:21.51px;background:#272727;"></div>
<div style="left:152.8px;top:173.34px;width:22.8px;height:21.51px;background:#232323;"></div>
<svg style="left:11px;top:177.99px;" width="13.2" height="13.9" viewBox="0 0 13 13" preserveAspectRatio="none"><rect x="0.5" y="0.5" width="12" height="12" fill="#242321" stroke="#8e744a" stroke-width="0.95"/><circle cx="6.5" cy="6.5" r="3.1" fill="none" stroke="#aaa192" stroke-width="0.9"/><path d="M6.5 4.6V6.6H8" fill="none" stroke="#aaa192" stroke-width="0.8"/></svg>
<div class="t" style="top:179.99px;font-size:8.1px;line-height:10.5px;color:#e2e2e2;left:28.4px;text-shadow:0 0 0.4px rgba(226,226,226,0.6);"><span style="display:inline-block;transform:scaleX(0.97);transform-origin:0 50%;">time</span></div>
<svg style="left:159px;top:180.04px;" width="10.4" height="7.2" viewBox="0 0 10.4 7.2"><path d="M0.5 3.6Q5.2 -2 9.9 3.6Q5.2 9.2 0.5 3.6Z" fill="none" stroke="#ababab" stroke-width="0.9"/><circle cx="5.2" cy="3.6" r="1.9" fill="none" stroke="#ababab" stroke-width="0.9"/></svg>
<div style="left:0px;top:196.15px;width:152.8px;height:21.51px;background:#272727;"></div>
<div style="left:152.8px;top:196.15px;width:22.8px;height:21.51px;background:#232323;"></div>
<svg style="left:11px;top:200.8px;" width="13.2" height="13.9" viewBox="0 0 13 13" preserveAspectRatio="none"><rect x="0.5" y="0.5" width="12" height="12" fill="#242321" stroke="#8e744a" stroke-width="0.95"/><circle cx="6.5" cy="6.5" r="3.1" fill="none" stroke="#aaa192" stroke-width="0.9"/><path d="M6.5 4.6V6.6H8" fill="none" stroke="#aaa192" stroke-width="0.8"/></svg>
<div class="t" style="top:202.8px;font-size:8.1px;line-height:10.5px;color:#e2e2e2;left:28.4px;text-shadow:0 0 0.4px rgba(226,226,226,0.6);"><span style="display:inline-block;transform:scaleX(0.97);transform-origin:0 50%;">time</span></div>
<svg style="left:159px;top:202.85px;" width="10.4" height="7.2" viewBox="0 0 10.4 7.2"><path d="M0.5 3.6Q5.2 -2 9.9 3.6Q5.2 9.2 0.5 3.6Z" fill="none" stroke="#ababab" stroke-width="0.9"/><circle cx="5.2" cy="3.6" r="1.9" fill="none" stroke="#ababab" stroke-width="0.9"/></svg>
<div style="left:0px;top:218.96px;width:152.8px;height:21.51px;background:#272727;"></div>
<div style="left:152.8px;top:218.96px;width:22.8px;height:21.51px;background:#232323;"></div>
<svg style="left:11px;top:223.61px;" width="13.2" height="13.9" viewBox="0 0 13 13" preserveAspectRatio="none"><rect x="0.5" y="0.5" width="12" height="12" fill="#242321" stroke="#8e744a" stroke-width="0.95"/><path d="M1 6.5H12" stroke="#aaa192" stroke-width="0.9"/></svg>
<div class="t" style="top:225.61px;font-size:8.1px;line-height:10.5px;color:#e2e2e2;left:28.4px;text-shadow:0 0 0.4px rgba(226,226,226,0.6);"><span style="display:inline-block;transform:scaleX(0.91);transform-origin:0 50%;">line</span></div>
<svg style="left:159px;top:225.66px;" width="10.4" height="7.2" viewBox="0 0 10.4 7.2"><path d="M0.5 3.6Q5.2 -2 9.9 3.6Q5.2 9.2 0.5 3.6Z" fill="none" stroke="#ababab" stroke-width="0.9"/><circle cx="5.2" cy="3.6" r="1.9" fill="none" stroke="#ababab" stroke-width="0.9"/></svg>
<div style="left:0px;top:241.77px;width:152.8px;height:21.51px;background:#272727;"></div>
<div style="left:152.8px;top:241.77px;width:22.8px;height:21.51px;background:#232323;"></div>
<svg style="left:11px;top:246.42px;" width="13.2" height="13.9" viewBox="0 0 13 13" preserveAspectRatio="none"><rect x="0.5" y="0.5" width="12" height="12" fill="#242321" stroke="#8e744a" stroke-width="0.95"/><circle cx="6.5" cy="6.5" r="3.1" fill="none" stroke="#aaa192" stroke-width="0.9"/><path d="M6.5 4.6V6.6H8" fill="none" stroke="#aaa192" stroke-width="0.8"/></svg>
<div class="t" style="top:248.42px;font-size:8.1px;line-height:10.5px;color:#e2e2e2;left:28.4px;text-shadow:0 0 0.4px rgba(226,226,226,0.6);"><span style="display:inline-block;transform:scaleX(0.97);transform-origin:0 50%;">time</span></div>
<svg style="left:159px;top:248.47px;" width="10.4" height="7.2" viewBox="0 0 10.4 7.2"><path d="M0.5 3.6Q5.2 -2 9.9 3.6Q5.2 9.2 0.5 3.6Z" fill="none" stroke="#ababab" stroke-width="0.9"/><circle cx="5.2" cy="3.6" r="1.9" fill="none" stroke="#ababab" stroke-width="0.9"/></svg>
<div style="left:0px;top:264.58px;width:152.8px;height:21.51px;background:#272727;"></div>
<div style="left:152.8px;top:264.58px;width:22.8px;height:21.51px;background:#232323;"></div>
<svg style="left:11px;top:269.23px;" width="13.2" height="13.9" viewBox="0 0 13 13" preserveAspectRatio="none"><rect x="0.5" y="0.5" width="12" height="12" fill="#242321" stroke="#8e744a" stroke-width="0.95"/><rect x="3.2" y="3.4" width="6.6" height="6.2" fill="none" stroke="#aaa192" stroke-width="0.8"/><path d="M3.4 8.4L5.6 6.2L7.2 7.8L8.2 7L9.6 8.2" fill="none" stroke="#aaa192" stroke-width="0.8"/><circle cx="7.9" cy="5.1" r="0.7" fill="#aaa192"/></svg>
<div class="t" style="top:271.23px;font-size:8.1px;line-height:10.5px;color:#e2e2e2;left:28.4px;text-shadow:0 0 0.4px rgba(226,226,226,0.6);"><span>logo</span></div>
<svg style="left:159px;top:271.28px;" width="10.4" height="7.2" viewBox="0 0 10.4 7.2"><path d="M0.5 3.6Q5.2 -2 9.9 3.6Q5.2 9.2 0.5 3.6Z" fill="none" stroke="#ababab" stroke-width="0.9"/><circle cx="5.2" cy="3.6" r="1.9" fill="none" stroke="#ababab" stroke-width="0.9"/></svg>
<div style="left:0px;top:287.39px;width:152.8px;height:21.51px;background:#272727;"></div>
<div style="left:152.8px;top:287.39px;width:22.8px;height:21.51px;background:#232323;"></div>
<svg style="left:11px;top:292.04px;" width="13.2" height="13.9" viewBox="0 0 13 13" preserveAspectRatio="none"><rect x="0.5" y="0.5" width="12" height="12" fill="#242321" stroke="#8e744a" stroke-width="0.95"/></svg><div class="t" style="top:292.29px;font-size:10px;line-height:13px;color:#e6e0d4;font-family:'Liberation Serif', serif;left:-182.5px;width:400px;text-align:center;">T</div>
<div class="t" style="top:294.04px;font-size:8.1px;line-height:10.5px;color:#e2e2e2;left:28.4px;text-shadow:0 0 0.4px rgba(226,226,226,0.6);"><span style="display:inline-block;transform:scaleX(0.86);transform-origin:0 50%;">GROUP DASHBOARD</span></div>
<svg style="left:159px;top:294.09px;" width="10.4" height="7.2" viewBox="0 0 10.4 7.2"><path d="M0.5 3.6Q5.2 -2 9.9 3.6Q5.2 9.2 0.5 3.6Z" fill="none" stroke="#ababab" stroke-width="0.9"/><circle cx="5.2" cy="3.6" r="1.9" fill="none" stroke="#ababab" stroke-width="0.9"/></svg>
<div style="left:0px;top:310.2px;width:152.8px;height:21.51px;background:#272727;"></div>
<div style="left:152.8px;top:310.2px;width:22.8px;height:21.51px;background:#232323;"></div>
<svg style="left:11px;top:314.85px;" width="13.2" height="13.9" viewBox="0 0 13 13" preserveAspectRatio="none"><rect x="0.5" y="0.5" width="12" height="12" fill="#242321" stroke="#8e744a" stroke-width="0.95"/><rect x="3.2" y="3.4" width="6.6" height="6.2" fill="none" stroke="#aaa192" stroke-width="0.8"/><path d="M3.4 8.4L5.6 6.2L7.2 7.8L8.2 7L9.6 8.2" fill="none" stroke="#aaa192" stroke-width="0.8"/><circle cx="7.9" cy="5.1" r="0.7" fill="#aaa192"/></svg>
<div class="t" style="top:316.85px;font-size:8.1px;line-height:10.5px;color:#e2e2e2;left:28.4px;text-shadow:0 0 0.4px rgba(226,226,226,0.6);"><span style="display:inline-block;transform:scaleX(0.95);transform-origin:0 50%;">picture</span></div>
<div style="left:158.6px;top:315.2px;width:10px;height:10.4px;background:#1d1d1d;border:1px solid #2f2f2f;"></div>
<div style="left:0px;top:333.01px;width:152.8px;height:21.51px;background:#272727;"></div>
<div style="left:152.8px;top:333.01px;width:22.8px;height:21.51px;background:#232323;"></div>
<svg style="left:6.8px;top:340.41px;" width="4" height="6" viewBox="0 0 4 6"><path d="M0.6 0.4L3.2 3L0.6 5.6" fill="none" stroke="#8a8a8a" stroke-width="1"/></svg>
<svg style="left:18.2px;top:340.41px;" width="8.2" height="6.8" viewBox="0 0 8.2 6.8"><path d="M0 0.6Q0 0 0.6 0H3L3.9 1.1H7.6Q8.2 1.1 8.2 1.7V6.2Q8.2 6.8 7.6 6.8H0.6Q0 6.8 0 6.2Z" fill="#dcdcdc"/><rect x="0" y="1.9" width="8.2" height="0.7" fill="#262626" opacity="0.7"/></svg>
<div class="t" style="top:339.66px;font-size:8.1px;line-height:10.5px;color:#e2e2e2;left:30.4px;text-shadow:0 0 0.4px rgba(226,226,226,0.6);"><span style="display:inline-block;transform:scaleX(0.84);transform-origin:0 50%;">OVERVIEW</span></div>
<div style="left:158.6px;top:338.01px;width:10px;height:10.4px;background:#1d1d1d;border:1px solid #2f2f2f;"></div>
<div style="left:0px;top:355.82px;width:152.8px;height:21.51px;background:#272727;"></div>
<div style="left:152.8px;top:355.82px;width:22.8px;height:21.51px;background:#232323;"></div>
<svg style="left:6.8px;top:363.22px;" width="4" height="6" viewBox="0 0 4 6"><path d="M0.6 0.4L3.2 3L0.6 5.6" fill="none" stroke="#8a8a8a" stroke-width="1"/></svg>
<svg style="left:18.2px;top:363.22px;" width="8.2" height="6.8" viewBox="0 0 8.2 6.8"><path d="M0 0.6Q0 0 0.6 0H3L3.9 1.1H7.6Q8.2 1.1 8.2 1.7V6.2Q8.2 6.8 7.6 6.8H0.6Q0 6.8 0 6.2Z" fill="#dcdcdc"/><rect x="0" y="1.9" width="8.2" height="0.7" fill="#262626" opacity="0.7"/></svg>
<div class="t" style="top:362.47px;font-size:8.1px;line-height:10.5px;color:#e2e2e2;left:30.4px;text-shadow:0 0 0.4px rgba(226,226,226,0.6);"><span style="display:inline-block;transform:scaleX(0.91);transform-origin:0 50%;">ROOM</span></div>
<svg style="left:159px;top:362.52px;" width="10.4" height="7.2" viewBox="0 0 10.4 7.2"><path d="M0.5 3.6Q5.2 -2 9.9 3.6Q5.2 9.2 0.5 3.6Z" fill="none" stroke="#ababab" stroke-width="0.9"/><circle cx="5.2" cy="3.6" r="1.9" fill="none" stroke="#ababab" stroke-width="0.9"/></svg>
<div style="left:0px;top:378.63px;width:152.8px;height:21.51px;background:#272727;"></div>
<div style="left:152.8px;top:378.63px;width:22.8px;height:21.51px;background:#232323;"></div>
<svg style="left:6.8px;top:386.03px;" width="4" height="6" viewBox="0 0 4 6"><path d="M0.6 0.4L3.2 3L0.6 5.6" fill="none" stroke="#8a8a8a" stroke-width="1"/></svg>
<svg style="left:18.2px;top:386.03px;" width="8.2" height="6.8" viewBox="0 0 8.2 6.8"><path d="M0 0.6Q0 0 0.6 0H3L3.9 1.1H7.6Q8.2 1.1 8.2 1.7V6.2Q8.2 6.8 7.6 6.8H0.6Q0 6.8 0 6.2Z" fill="#dcdcdc"/><rect x="0" y="1.9" width="8.2" height="0.7" fill="#262626" opacity="0.7"/></svg>
<div class="t" style="top:385.28px;font-size:8.1px;line-height:10.5px;color:#e2e2e2;left:30.4px;text-shadow:0 0 0.4px rgba(226,226,226,0.6);"><span style="display:inline-block;transform:scaleX(0.89);transform-origin:0 50%;">F&amp;B</span></div>
<div style="left:158.6px;top:383.63px;width:10px;height:10.4px;background:#1d1d1d;border:1px solid #2f2f2f;"></div>
<div style="left:0px;top:401.44px;width:152.8px;height:21.51px;background:#272727;"></div>
<div style="left:152.8px;top:401.44px;width:22.8px;height:21.51px;background:#232323;"></div>
<svg style="left:6.8px;top:408.84px;" width="4" height="6" viewBox="0 0 4 6"><path d="M0.6 0.4L3.2 3L0.6 5.6" fill="none" stroke="#8a8a8a" stroke-width="1"/></svg>
<svg style="left:18.2px;top:408.84px;" width="8.2" height="6.8" viewBox="0 0 8.2 6.8"><path d="M0 0.6Q0 0 0.6 0H3L3.9 1.1H7.6Q8.2 1.1 8.2 1.7V6.2Q8.2 6.8 7.6 6.8H0.6Q0 6.8 0 6.2Z" fill="#dcdcdc"/><rect x="0" y="1.9" width="8.2" height="0.7" fill="#262626" opacity="0.7"/></svg>
<div class="t" style="top:408.09px;font-size:8.1px;line-height:10.5px;color:#e2e2e2;left:30.4px;text-shadow:0 0 0.4px rgba(226,226,226,0.6);"><span style="display:inline-block;transform:scaleX(0.91);transform-origin:0 50%;">Recreation</span></div>
<div style="left:158.6px;top:406.44px;width:10px;height:10.4px;background:#1d1d1d;border:1px solid #2f2f2f;"></div>
<div style="left:0px;top:424.25px;width:152.8px;height:21.51px;background:#272727;"></div>
<div style="left:152.8px;top:424.25px;width:22.8px;height:21.51px;background:#232323;"></div>
<svg style="left:4.2px;top:428.9px;" width="13.2" height="13.9" viewBox="0 0 13 13" preserveAspectRatio="none"><rect x="0.5" y="0.5" width="12" height="12" fill="#242321" stroke="#a8703c" stroke-width="0.95"/><path d="M3.2 3.4H6V6H3.2ZM7 3.4H9.8V6H7ZM3.2 7H6V9.6H3.2ZM7 7H9.8V9.6H7Z" fill="none" stroke="#aaa192" stroke-width="0.8"/></svg>
<div class="t" style="top:430.9px;font-size:8.1px;line-height:10.5px;color:#e2e2e2;left:21.8px;text-shadow:0 0 0.4px rgba(226,226,226,0.6);"><span style="display:inline-block;transform:scaleX(0.91);transform-origin:0 50%;">Image</span></div>
<div style="left:158.6px;top:429.25px;width:10px;height:10.4px;background:#1d1d1d;border:1px solid #2f2f2f;"></div>
<div style="left:0px;top:494px;width:176px;height:22px;background:#1e1e1e;"></div>
<svg style="left:9.6px;top:501.8px;" width="9.4" height="9.6" viewBox="0 0 9.4 9.6"><path d="M4.7 0.6V6.8M2.4 2.8L4.7 0.6L7 2.8" fill="none" stroke="#b8b8b8" stroke-width="1.2"/><path d="M0.4 8.2H9" stroke="#b8b8b8" stroke-width="1.4"/></svg>
<svg style="left:46px;top:501.8px;" width="9.6" height="9.6" viewBox="0 0 9.6 9.6"><path d="M0.4 1H9.2" stroke="#b8b8b8" stroke-width="1.4"/><path d="M4.8 2.6V9M2.5 6.8L4.8 9L7.1 6.8" fill="none" stroke="#b8b8b8" stroke-width="1.2"/></svg>
<svg style="left:81.6px;top:501.6px;" width="10.4" height="10" viewBox="0 0 10.4 10"><rect x="0.6" y="1.6" width="6" height="4.6" fill="none" stroke="#b8b8b8" stroke-width="1.1"/><rect x="3.6" y="3.8" width="6" height="4.6" fill="#1e1e1e" stroke="#b8b8b8" stroke-width="1.1"/></svg>
<svg style="left:118.6px;top:501.6px;" width="9.6" height="10.4" viewBox="0 0 9.6 10.4"><path d="M2.6 2.2V1Q2.6 0.6 3 0.6H7.6L9 2V7.6Q9 8 8.6 8H7.6" fill="none" stroke="#b8b8b8" stroke-width="1"/><rect x="0.6" y="2.4" width="6.6" height="7.2" rx="0.6" fill="none" stroke="#b8b8b8" stroke-width="1.1"/><path d="M3.9 4.4V7.6M2.3 6H5.5" stroke="#b8b8b8" stroke-width="1"/></svg>
<svg style="left:155.2px;top:501.6px;" width="9.2" height="10" viewBox="0 0 9.2 10"><path d="M0.4 2H8.8M3 1.8V0.6H6.2V1.8" fill="none" stroke="#b8b8b8" stroke-width="1.1"/><path d="M1.4 2.4V9Q1.4 9.5 1.9 9.5H7.3Q7.8 9.5 7.8 9V2.4" fill="none" stroke="#b8b8b8" stroke-width="1.1"/><path d="M3.6 4.2V7.8M5.6 4.2V7.8" stroke="#b8b8b8" stroke-width="1"/></svg>
<!-- s_panel -->
<div style="left:176px;top:31px;width:702px;height:25.4px;background:#202020;"></div>
<div style="left:176px;top:56px;width:431px;height:267px;background:#0b0c0e;"></div>
<div class="t" style="top:39.55px;font-size:8.2px;line-height:10.7px;color:#efefef;left:187px;text-shadow:0 0 0.4px rgba(240,240,240,0.7);"><span style="display:inline-block;transform:scaleX(0.93);transform-origin:0 50%;">Chart</span></div>
<div class="t" style="top:39.55px;font-size:8.2px;line-height:10.7px;color:#efefef;left:228.4px;text-shadow:0 0 0.4px rgba(240,240,240,0.7);"><span style="display:inline-block;transform:scaleX(0.89);transform-origin:0 50%;">Characters</span></div>
<div class="t" style="top:39.55px;font-size:8.2px;line-height:10.7px;color:#efefef;left:286.6px;text-shadow:0 0 0.4px rgba(240,240,240,0.7);"><span style="display:inline-block;transform:scaleX(0.94);transform-origin:0 50%;">Media</span></div>
<div class="t" style="top:39.55px;font-size:8.2px;line-height:10.7px;color:#efefef;left:330.6px;text-shadow:0 0 0.4px rgba(240,240,240,0.7);"><span style="display:inline-block;transform:scaleX(0.94);transform-origin:0 50%;">Map</span></div>
<div class="t" style="top:39.55px;font-size:8.2px;line-height:10.7px;color:#efefef;left:368.4px;text-shadow:0 0 0.4px rgba(240,240,240,0.7);"><span style="display:inline-block;transform:scaleX(0.95);transform-origin:0 50%;">Interaction</span></div>
<div class="t" style="top:39.55px;font-size:8.2px;line-height:10.7px;color:#efefef;left:427.6px;text-shadow:0 0 0.4px rgba(240,240,240,0.7);"><span style="display:inline-block;transform:scaleX(0.89);transform-origin:0 50%;">Form</span></div>
<div class="t" style="top:39.55px;font-size:8.2px;line-height:10.7px;color:#efefef;left:467.6px;text-shadow:0 0 0.4px rgba(240,240,240,0.7);"><span style="display:inline-block;transform:scaleX(0.94);transform-origin:0 50%;">Others</span></div>
<div style="left:176px;top:56.6px;width:64.4px;height:254.2px;background:#1b1b1b;"></div>
<div style="left:176px;top:81.4px;width:64.4px;height:25.2px;background:#101010;"></div>
<div class="t" style="top:64.8px;font-size:8px;line-height:10.4px;color:#a9a9a9;left:7.6px;width:400px;text-align:center;"><span style="display:inline-block;transform:scaleX(0.99);transform-origin:50% 50%;">Total</span></div>
<div class="t" style="top:90.16px;font-size:8px;line-height:10.4px;color:#ec6e4a;left:7.6px;width:400px;text-align:center;"><span style="display:inline-block;transform:scaleX(0.91);transform-origin:50% 50%;">Bar</span></div>
<div class="t" style="top:115.52px;font-size:8px;line-height:10.4px;color:#a9a9a9;left:7.6px;width:400px;text-align:center;"><span style="display:inline-block;transform:scaleX(0.88);transform-origin:50% 50%;">Line</span></div>
<div class="t" style="top:140.88px;font-size:8px;line-height:10.4px;color:#a9a9a9;left:7.6px;width:400px;text-align:center;"><span style="display:inline-block;transform:scaleX(0.89);transform-origin:50% 50%;">Pie</span></div>
<div class="t" style="top:166.24px;font-size:8px;line-height:10.4px;color:#a9a9a9;left:7.6px;width:400px;text-align:center;"><span style="display:inline-block;transform:scaleX(0.88);transform-origin:50% 50%;">Scatter</span></div>
<div class="t" style="top:191.6px;font-size:8px;line-height:10.4px;color:#a9a9a9;left:7.6px;width:400px;text-align:center;"><span style="display:inline-block;transform:scaleX(0.94);transform-origin:50% 50%;">Dashboard</span></div>
<div class="t" style="top:216.96px;font-size:8px;line-height:10.4px;color:#a9a9a9;left:7.6px;width:400px;text-align:center;"><span style="display:inline-block;transform:scaleX(0.89);transform-origin:50% 50%;">Table</span></div>
<div class="t" style="top:242.32px;font-size:8px;line-height:10.4px;color:#a9a9a9;left:7.6px;width:400px;text-align:center;"><span style="display:inline-block;transform:scaleX(0.93);transform-origin:50% 50%;">Other</span></div>
<div style="left:240.4px;top:56.6px;width:366.6px;height:254.2px;overflow:hidden;"><div style="left:-240.4px;top:-56.6px;width:1080px;height:516px;"><div style="left:249px;top:63.1px;width:110.6px;height:82px;background:#1d1e20;border-radius:1.5px;"></div>
<div style="left:249px;top:63.1px;width:110.6px;height:16.4px;background:#27282a;border-radius:1.5px 1.5px 0 0;"></div>
<div class="t" style="top:67.7px;font-size:8px;line-height:10.4px;color:#d0d0d0;left:257px;"><span style="display:inline-block;transform:scaleX(0.91);transform-origin:0 50%;">Bar Graph</span></div>
<svg style="left:249px;top:63.1px;font-family:'Liberation Sans',sans-serif;" width="110.6" height="82" viewBox="0 0 110.6 82"><defs><linearGradient id="b1" x1="0" y1="0" x2="0" y2="1"><stop offset="0" stop-color="#8ff0f4"/><stop offset="0.5" stop-color="#4fb6e6"/><stop offset="1" stop-color="#2673cc"/></linearGradient><linearGradient id="b2" x1="0" y1="0" x2="0" y2="1"><stop offset="0" stop-color="#4ea2e6"/><stop offset="1" stop-color="#1f5fb6"/></linearGradient><linearGradient id="b3" x1="0" y1="0" x2="0" y2="1"><stop offset="0" stop-color="#d6fbfb"/><stop offset="0.45" stop-color="#62d2ee"/><stop offset="1" stop-color="#1d8fd6"/></linearGradient><linearGradient id="h1" x1="0" y1="0" x2="1" y2="0"><stop offset="0" stop-color="#2a74cc"/><stop offset="0.6" stop-color="#56c0e6"/><stop offset="1" stop-color="#c9f6f2"/></linearGradient><linearGradient id="h2" x1="0" y1="0" x2="1" y2="0"><stop offset="0" stop-color="#e8fbf6"/><stop offset="1" stop-color="#5fd0e0"/></linearGradient><linearGradient id="h3" x1="0" y1="0" x2="1" y2="0"><stop offset="0" stop-color="#2468c4"/><stop offset="1" stop-color="#6fd6ea"/></linearGradient></defs><path d="M16.8 31H100.6" stroke="#343537" stroke-width="0.7"/><path d="M16.8 41H100.6" stroke="#343537" stroke-width="0.7"/><path d="M16.8 51.6H100.6" stroke="#343537" stroke-width="0.7"/><path d="M16.8 62H100.6" stroke="#8c8c8c" stroke-width="0.9"/><text x="8.6" y="32.6" font-size="4.6" font-weight="700" fill="#9b9b9b">300</text><text x="8.6" y="42.6" font-size="4.6" font-weight="700" fill="#9b9b9b">200</text><text x="8.6" y="53.2" font-size="4.6" font-weight="700" fill="#9b9b9b">100</text><text x="8.6" y="62.8" font-size="4.6" font-weight="700" fill="#9b9b9b">0</text><rect x="25.4" y="43.6" width="3.2" height="18.4" rx="0.8" fill="url(#b1)"/><rect x="41.7" y="38" width="3.2" height="24" rx="0.8" fill="url(#b1)"/><rect x="58" y="40.6" width="3.2" height="21.4" rx="0.8" fill="url(#b1)"/><rect x="74" y="32.4" width="3.2" height="29.6" rx="0.8" fill="url(#b1)"/><rect x="89.7" y="38" width="3.2" height="24" rx="0.8" fill="url(#b1)"/><text x="27" y="68.4" font-size="5" font-weight="700" fill="#9b9b9b" text-anchor="middle">A</text><text x="43.3" y="68.4" font-size="5" font-weight="700" fill="#9b9b9b" text-anchor="middle">B</text><text x="59.6" y="68.4" font-size="5" font-weight="700" fill="#9b9b9b" text-anchor="middle">C</text><text x="75.6" y="68.4" font-size="5" font-weight="700" fill="#9b9b9b" text-anchor="middle">D</text><text x="91.3" y="68.4" font-size="5" font-weight="700" fill="#9b9b9b" text-anchor="middle">F</text></svg>
<div style="left:367.8px;top:63.1px;width:110.6px;height:82px;background:#1d1e20;border-radius:1.5px;"></div>
<div style="left:367.8px;top:63.1px;width:110.6px;height:16.4px;background:#27282a;border-radius:1.5px 1.5px 0 0;"></div>
<div class="t" style="top:67.7px;font-size:8px;line-height:10.4px;color:#d0d0d0;left:375.8px;"><span style="display:inline-block;transform:scaleX(0.96);transform-origin:0 50%;">Multiple Bar Chart</span></div>
<svg style="left:367.8px;top:63.1px;font-family:'Liberation Sans',sans-serif;" width="110.6" height="82" viewBox="0 0 110.6 82"><path d="M17.6 31H61" stroke="#343537" stroke-width="0.7"/><path d="M17.6 41H61" stroke="#343537" stroke-width="0.7"/><path d="M17.6 51.6H61" stroke="#343537" stroke-width="0.7"/><path d="M17.6 62H61" stroke="#8c8c8c" stroke-width="0.9"/><text x="8.6" y="32.2" font-size="4.6" font-weight="700" fill="#9b9b9b">300</text><text x="8.6" y="42.6" font-size="4.6" font-weight="700" fill="#9b9b9b">200</text><text x="8.6" y="53.2" font-size="4.6" font-weight="700" fill="#9b9b9b">100</text><text x="8.6" y="62.8" font-size="4.6" font-weight="700" fill="#9b9b9b">0</text><path d="M61 31H100M61 41H100M61 51.6H100" stroke="#343537" stroke-width="0.7"/><path d="M61 62H100" stroke="#8c8c8c" stroke-width="0.9"/><rect x="24.6" y="49.6" width="3" height="12.4" rx="0.7" fill="url(#b2)"/><rect x="27" y="43" width="3" height="19" rx="0.7" fill="url(#b3)"/><rect x="40.8" y="37.6" width="3" height="24.4" rx="0.7" fill="url(#b2)"/><rect x="43.2" y="44" width="3" height="18" rx="0.7" fill="url(#b3)"/><rect x="56.6" y="47.6" width="3" height="14.4" rx="0.7" fill="url(#b2)"/><rect x="59" y="50" width="3" height="12" rx="0.7" fill="url(#b3)"/><rect x="73.2" y="38" width="3" height="24" rx="0.7" fill="url(#b2)"/><rect x="75.6" y="32" width="3" height="30" rx="0.7" fill="url(#b3)"/><rect x="89" y="37.6" width="3" height="24.4" rx="0.7" fill="url(#b2)"/><rect x="91.4" y="44" width="3" height="18" rx="0.7" fill="url(#b3)"/><text x="27.4" y="68.4" font-size="5" font-weight="700" fill="#9b9b9b" text-anchor="middle">A</text><text x="43.6" y="68.4" font-size="5" font-weight="700" fill="#9b9b9b" text-anchor="middle">B</text><text x="59.4" y="68.4" font-size="5" font-weight="700" fill="#9b9b9b" text-anchor="middle">C</text><text x="76" y="68.4" font-size="5" font-weight="700" fill="#9b9b9b" text-anchor="middle">D</text><text x="91.8" y="68.4" font-size="5" font-weight="700" fill="#9b9b9b" text-anchor="middle">F</text></svg>
<div style="left:486.2px;top:63.1px;width:110.6px;height:82px;background:#1d1e20;border-radius:1.5px;"></div>
<div style="left:486.2px;top:63.1px;width:110.6px;height:16.4px;background:#27282a;border-radius:1.5px 1.5px 0 0;"></div>
<div class="t" style="top:67.7px;font-size:8px;line-height:10.4px;color:#d0d0d0;left:494.2px;"><span style="display:inline-block;transform:scaleX(0.93);transform-origin:0 50%;">Stacked Column Chart</span></div>
<svg style="left:486.2px;top:63.1px;font-family:'Liberation Sans',sans-serif;" width="110.6" height="82" viewBox="0 0 110.6 82"><path d="M17.4 31H98" stroke="#343537" stroke-width="0.7"/><path d="M17.4 41H98" stroke="#343537" stroke-width="0.7"/><path d="M17.4 51.6H98" stroke="#343537" stroke-width="0.7"/><path d="M17.4 62H98" stroke="#8c8c8c" stroke-width="0.9"/><text x="9.8" y="33.2" font-size="4.6" font-weight="700" fill="#9b9b9b">300</text><text x="9.8" y="43.2" font-size="4.6" font-weight="700" fill="#9b9b9b">200</text><text x="9.8" y="52.6" font-size="4.6" font-weight="700" fill="#9b9b9b">100</text><text x="9.8" y="62.8" font-size="4.6" font-weight="700" fill="#9b9b9b">0</text><rect x="23.8" y="53" width="3.2" height="9" fill="url(#b2)"/><rect x="23.8" y="45" width="3.2" height="8.6" rx="0.8" fill="url(#b3)"/><rect x="39.4" y="47" width="3.2" height="15" fill="url(#b2)"/><rect x="39.4" y="34" width="3.2" height="13.6" rx="0.8" fill="url(#b3)"/><rect x="55" y="56" width="3.2" height="6" fill="url(#b2)"/><rect x="55" y="49" width="3.2" height="7.6" rx="0.8" fill="url(#b3)"/><rect x="70.4" y="50" width="3.2" height="12" fill="url(#b2)"/><rect x="70.4" y="38.4" width="3.2" height="12.2" rx="0.8" fill="url(#b3)"/><rect x="85.6" y="47" width="3.2" height="15" fill="url(#b2)"/><rect x="85.6" y="34" width="3.2" height="13.6" rx="0.8" fill="url(#b3)"/><text x="25.4" y="68.4" font-size="5" font-weight="700" fill="#9b9b9b" text-anchor="middle">A</text><text x="41" y="68.4" font-size="5" font-weight="700" fill="#9b9b9b" text-anchor="middle">B</text><text x="56.6" y="68.4" font-size="5" font-weight="700" fill="#9b9b9b" text-anchor="middle">C</text><text x="72" y="68.4" font-size="5" font-weight="700" fill="#9b9b9b" text-anchor="middle">D</text><text x="87.2" y="68.4" font-size="5" font-weight="700" fill="#9b9b9b" text-anchor="middle">F</text></svg>
<div style="left:249px;top:154.5px;width:110.6px;height:82px;background:#1d1e20;border-radius:1.5px;"></div>
<div style="left:249px;top:154.5px;width:110.6px;height:16.4px;background:#27282a;border-radius:1.5px 1.5px 0 0;"></div>
<div class="t" style="top:159.1px;font-size:8px;line-height:10.4px;color:#d0d0d0;left:257px;"><span style="display:inline-block;transform:scaleX(0.96);transform-origin:0 50%;">Multi-color Bar Chart</span></div>
<svg style="left:249px;top:154.5px;font-family:'Liberation Sans',sans-serif;" width="110.6" height="82" viewBox="0 0 110.6 82"><path d="M16.8 32H100.6" stroke="#343537" stroke-width="0.7"/><path d="M16.8 42H100.6" stroke="#343537" stroke-width="0.7"/><path d="M16.8 53H100.6" stroke="#343537" stroke-width="0.7"/><path d="M16.8 62.8H100.6" stroke="#8c8c8c" stroke-width="0.9"/><text x="8.8" y="33.6" font-size="4.6" font-weight="700" fill="#9b9b9b">300</text><text x="8.8" y="43.6" font-size="4.6" font-weight="700" fill="#9b9b9b">200</text><text x="8.8" y="54.6" font-size="4.6" font-weight="700" fill="#9b9b9b">100</text><text x="8.8" y="63.8" font-size="4.6" font-weight="700" fill="#9b9b9b">0</text><rect x="25.1" y="43" width="3.8" height="19.8" fill="#ffffff"/><rect x="41.4" y="38.4" width="3.8" height="24.4" fill="#35b4ee"/><rect x="57.7" y="41.6" width="3.8" height="21.2" fill="#3a7bea"/><rect x="73.7" y="32.6" width="3.8" height="30.2" fill="#1a18e4"/><rect x="89.4" y="33" width="3.8" height="29.8" fill="#5a58e0"/><text x="27" y="69.4" font-size="5" font-weight="700" fill="#9b9b9b" text-anchor="middle">A</text><text x="43.3" y="69.4" font-size="5" font-weight="700" fill="#9b9b9b" text-anchor="middle">B</text><text x="59.6" y="69.4" font-size="5" font-weight="700" fill="#9b9b9b" text-anchor="middle">C</text><text x="75.6" y="69.4" font-size="5" font-weight="700" fill="#9b9b9b" text-anchor="middle">D</text><text x="91.3" y="69.4" font-size="5" font-weight="700" fill="#9b9b9b" text-anchor="middle">F</text></svg>
<div style="left:367.8px;top:154.5px;width:110.6px;height:82px;background:#1d1e20;border-radius:1.5px;"></div>
<div style="left:367.8px;top:154.5px;width:110.6px;height:16.4px;background:#27282a;border-radius:1.5px 1.5px 0 0;"></div>
<div class="t" style="top:159.1px;font-size:8px;line-height:10.4px;color:#d0d0d0;left:375.8px;"><span style="display:inline-block;transform:scaleX(0.94);transform-origin:0 50%;">Horizontal Bar Chart</span></div>
<svg style="left:367.8px;top:154.5px;font-family:'Liberation Sans',sans-serif;" width="110.6" height="82" viewBox="0 0 110.6 82"><path d="M29 28.6V61.6" stroke="#343537" stroke-width="0.6"/><path d="M44.6 28.6V61.6" stroke="#343537" stroke-width="0.6"/><path d="M60.4 28.6V61.6" stroke="#343537" stroke-width="0.6"/><path d="M76 28.6V61.6" stroke="#343537" stroke-width="0.6"/><path d="M91.6 28.6V61.6" stroke="#343537" stroke-width="0.6"/><path d="M13.6 28.6V62" stroke="#8c8c8c" stroke-width="0.9"/><rect x="14" y="30.7" width="19" height="2.2" rx="1" fill="url(#h1)"/><text x="9.6" y="33.5" font-size="4.6" font-weight="700" fill="#9b9b9b" text-anchor="middle">A</text><rect x="14" y="37.5" width="59" height="2.2" rx="1" fill="url(#h1)"/><text x="9.6" y="40.3" font-size="4.6" font-weight="700" fill="#9b9b9b" text-anchor="middle">B</text><rect x="14" y="44.3" width="33.6" height="2.2" rx="1" fill="url(#h1)"/><text x="9.6" y="47.1" font-size="4.6" font-weight="700" fill="#9b9b9b" text-anchor="middle">C</text><rect x="14" y="50.9" width="28" height="2.2" rx="1" fill="url(#h1)"/><text x="9.6" y="53.7" font-size="4.6" font-weight="700" fill="#9b9b9b" text-anchor="middle">D</text><rect x="14" y="57.7" width="70" height="2.2" rx="1" fill="url(#h1)"/><text x="9.6" y="60.5" font-size="4.6" font-weight="700" fill="#9b9b9b" text-anchor="middle">E</text><text x="13.8" y="68.2" font-size="4.4" font-weight="700" fill="#9b9b9b" text-anchor="middle">0</text><text x="29" y="68.2" font-size="4.4" font-weight="700" fill="#9b9b9b" text-anchor="middle">100</text><text x="44.6" y="68.2" font-size="4.4" font-weight="700" fill="#9b9b9b" text-anchor="middle">200</text><text x="60.4" y="68.2" font-size="4.4" font-weight="700" fill="#9b9b9b" text-anchor="middle">300</text><text x="76" y="68.2" font-size="4.4" font-weight="700" fill="#9b9b9b" text-anchor="middle">400</text><text x="91.6" y="68.2" font-size="4.4" font-weight="700" fill="#9b9b9b" text-anchor="middle">500</text></svg>
<div style="left:486.2px;top:154.5px;width:110.6px;height:82px;background:#1d1e20;border-radius:1.5px;"></div>
<div style="left:486.2px;top:154.5px;width:110.6px;height:16.4px;background:#27282a;border-radius:1.5px 1.5px 0 0;"></div>
<div class="t" style="top:159.1px;font-size:8px;line-height:10.4px;color:#d0d0d0;left:494.2px;"><span style="display:inline-block;transform:scaleX(0.94);transform-origin:0 50%;">Bar Chart with Negative Value</span></div>
<svg style="left:486.2px;top:154.5px;font-family:'Liberation Sans',sans-serif;" width="110.6" height="82" viewBox="0 0 110.6 82"><path d="M39.6 28.6V61.6" stroke="#343537" stroke-width="0.6"/><path d="M56.4 28.6V61.6" stroke="#343537" stroke-width="0.6"/><path d="M73.4 28.6V61.6" stroke="#343537" stroke-width="0.6"/><path d="M90.2 28.6V61.6" stroke="#343537" stroke-width="0.6"/><path d="M56.4 28.2V62.6" stroke="#4a5a6a" stroke-width="0.7"/><path d="M14 63.2H98" stroke="#8c8c8c" stroke-width="0.8"/><rect x="23.6" y="30.7" width="32.8" height="2.2" rx="1" fill="url(#h2)"/><rect x="56.4" y="30.7" width="18.2" height="2.2" rx="1" fill="url(#h3)"/><text x="10" y="33.5" font-size="4.6" font-weight="700" fill="#9b9b9b" text-anchor="middle">A</text><rect x="29.6" y="37.5" width="26.8" height="2.2" rx="1" fill="url(#h2)"/><rect x="56.4" y="37.5" width="25.2" height="2.2" rx="1" fill="url(#h3)"/><text x="10" y="40.3" font-size="4.6" font-weight="700" fill="#9b9b9b" text-anchor="middle">B</text><rect x="22.6" y="44.3" width="33.8" height="2.2" rx="1" fill="url(#h2)"/><rect x="56.4" y="44.3" width="32.6" height="2.2" rx="1" fill="url(#h3)"/><text x="10" y="47.1" font-size="4.6" font-weight="700" fill="#9b9b9b" text-anchor="middle">C</text><rect x="38" y="50.9" width="18.4" height="2.2" rx="1" fill="url(#h2)"/><rect x="56.4" y="50.9" width="26.6" height="2.2" rx="1" fill="url(#h3)"/><text x="10" y="53.7" font-size="4.6" font-weight="700" fill="#9b9b9b" text-anchor="middle">D</text><rect x="24" y="57.7" width="32.4" height="2.2" rx="1" fill="url(#h2)"/><rect x="56.4" y="57.7" width="18.2" height="2.2" rx="1" fill="url(#h3)"/><text x="10" y="60.5" font-size="4.6" font-weight="700" fill="#9b9b9b" text-anchor="middle">E</text><text x="15.4" y="68.6" font-size="4.4" font-weight="700" fill="#9b9b9b" text-anchor="middle">0</text><text x="29.4" y="68.6" font-size="4.4" font-weight="700" fill="#9b9b9b" text-anchor="middle">100</text><text x="45.6" y="68.6" font-size="4.4" font-weight="700" fill="#9b9b9b" text-anchor="middle">200</text><text x="62.4" y="68.6" font-size="4.4" font-weight="700" fill="#9b9b9b" text-anchor="middle">300</text><text x="79.4" y="68.6" font-size="4.4" font-weight="700" fill="#9b9b9b" text-anchor="middle">400</text><text x="96" y="68.6" font-size="4.4" font-weight="700" fill="#9b9b9b" text-anchor="middle">500</text></svg>
<div style="left:249px;top:246px;width:110.6px;height:82px;background:#1d1e20;border-radius:1.5px;"></div>
<div style="left:249px;top:246px;width:110.6px;height:16.4px;background:#27282a;border-radius:1.5px 1.5px 0 0;"></div>
<div class="t" style="top:250.6px;font-size:8px;line-height:10.4px;color:#d0d0d0;left:257px;"><span style="display:inline-block;transform:scaleX(0.9);transform-origin:0 50%;">Texture Bar Chart</span></div>
<svg style="left:249px;top:246px;font-family:'Liberation Sans',sans-serif;" width="110.6" height="82" viewBox="0 0 110.6 82"><path d="M15.6 35.2H103" stroke="#343537" stroke-width="0.7"/><path d="M15.6 44.4H103" stroke="#343537" stroke-width="0.7"/><path d="M15.6 53.4H103" stroke="#343537" stroke-width="0.7"/><path d="M15.6 62.8H103" stroke="#8c8c8c" stroke-width="0.9"/><text x="7.6" y="36.8" font-size="4.6" font-weight="700" fill="#9b9b9b">300</text><text x="7.6" y="46" font-size="4.6" font-weight="700" fill="#9b9b9b">200</text><text x="7.6" y="55" font-size="4.6" font-weight="700" fill="#9b9b9b">100</text><text x="7.6" y="63.8" font-size="4.6" font-weight="700" fill="#9b9b9b">0</text><rect x="24.4" y="61.2" width="5" height="1.1" fill="#4293e0"/><rect x="24.4" y="59.45" width="5" height="1.1" fill="#4a99e0"/><rect x="24.4" y="57.7" width="5" height="1.1" fill="#539fe1"/><rect x="24.4" y="55.95" width="5" height="1.1" fill="#5ba5e1"/><rect x="41.4" y="61.2" width="5" height="1.1" fill="#4293e0"/><rect x="41.4" y="59.45" width="5" height="1.1" fill="#4a99e0"/><rect x="41.4" y="57.7" width="5" height="1.1" fill="#539fe1"/><rect x="41.4" y="55.95" width="5" height="1.1" fill="#5ba5e1"/><rect x="41.4" y="54.2" width="5" height="1.1" fill="#63abe2"/><rect x="41.4" y="52.45" width="5" height="1.1" fill="#6cb0e2"/><rect x="41.4" y="50.7" width="5" height="1.1" fill="#74b6e3"/><rect x="41.4" y="48.95" width="5" height="1.1" fill="#7cbce3"/><rect x="41.4" y="47.2" width="5" height="1.1" fill="#85c2e4"/><rect x="41.4" y="45.45" width="5" height="1.1" fill="#8dc8e4"/><rect x="57.9" y="61.2" width="5" height="1.1" fill="#4293e0"/><rect x="57.9" y="59.45" width="5" height="1.1" fill="#4a99e0"/><rect x="57.9" y="57.7" width="5" height="1.1" fill="#539fe1"/><rect x="57.9" y="55.95" width="5" height="1.1" fill="#5ba5e1"/><rect x="57.9" y="54.2" width="5" height="1.1" fill="#63abe2"/><rect x="57.9" y="52.45" width="5" height="1.1" fill="#6cb0e2"/><rect x="57.9" y="50.7" width="5" height="1.1" fill="#74b6e3"/><rect x="74.5" y="61.2" width="5" height="1.1" fill="#4293e0"/><rect x="74.5" y="59.45" width="5" height="1.1" fill="#4a99e0"/><rect x="74.5" y="57.7" width="5" height="1.1" fill="#539fe1"/><rect x="74.5" y="55.95" width="5" height="1.1" fill="#5ba5e1"/><rect x="74.5" y="54.2" width="5" height="1.1" fill="#63abe2"/><rect x="74.5" y="52.45" width="5" height="1.1" fill="#6cb0e2"/><rect x="74.5" y="50.7" width="5" height="1.1" fill="#74b6e3"/><rect x="74.5" y="48.95" width="5" height="1.1" fill="#7cbce3"/><rect x="74.5" y="47.2" width="5" height="1.1" fill="#85c2e4"/><rect x="74.5" y="45.45" width="5" height="1.1" fill="#8dc8e4"/><rect x="74.5" y="43.7" width="5" height="1.1" fill="#95cde5"/><rect x="74.5" y="41.95" width="5" height="1.1" fill="#9ed3e5"/><rect x="74.5" y="40.2" width="5" height="1.1" fill="#a6d9e6"/><rect x="74.5" y="38.45" width="5" height="1.1" fill="#aedfe6"/><rect x="74.5" y="36.7" width="5" height="1.1" fill="#b7e5e7"/><rect x="74.5" y="34.95" width="5" height="1.1" fill="#bfeae7"/><rect x="91.1" y="61.2" width="5" height="1.1" fill="#4293e0"/><rect x="91.1" y="59.45" width="5" height="1.1" fill="#4a99e0"/><rect x="91.1" y="57.7" width="5" height="1.1" fill="#539fe1"/><rect x="91.1" y="55.95" width="5" height="1.1" fill="#5ba5e1"/><rect x="91.1" y="54.2" width="5" height="1.1" fill="#63abe2"/><rect x="91.1" y="52.45" width="5" height="1.1" fill="#6cb0e2"/><rect x="91.1" y="50.7" width="5" height="1.1" fill="#74b6e3"/><rect x="91.1" y="48.95" width="5" height="1.1" fill="#7cbce3"/><rect x="91.1" y="47.2" width="5" height="1.1" fill="#85c2e4"/><rect x="91.1" y="45.45" width="5" height="1.1" fill="#8dc8e4"/></svg>
<div style="left:367.8px;top:246px;width:110.6px;height:82px;background:#1d1e20;border-radius:1.5px;"></div>
<div style="left:367.8px;top:246px;width:110.6px;height:16.4px;background:#27282a;border-radius:1.5px 1.5px 0 0;"></div>
<div class="t" style="top:250.6px;font-size:8px;line-height:10.4px;color:#d0d0d0;left:375.8px;"><span style="display:inline-block;transform:scaleX(0.94);transform-origin:0 50%;">Horizontal Textured Bar Chart</span></div>
<svg style="left:367.8px;top:246px;font-family:'Liberation Sans',sans-serif;" width="110.6" height="82" viewBox="0 0 110.6 82"><path d="M27 28V66" stroke="#343537" stroke-width="0.6"/><path d="M43 28V66" stroke="#343537" stroke-width="0.6"/><path d="M59 28V66" stroke="#343537" stroke-width="0.6"/><path d="M75 28V66" stroke="#343537" stroke-width="0.6"/><path d="M91 28V66" stroke="#343537" stroke-width="0.6"/><path d="M13.6 28V66" stroke="#7fb2e6" stroke-width="0.9"/><rect x="14.8" y="31.7" width="1.05" height="4" fill="#3a8ae0"/><rect x="16.42" y="31.7" width="1.05" height="4" fill="#3c8ce0"/><rect x="18.04" y="31.7" width="1.05" height="4" fill="#3f8ee0"/><rect x="19.66" y="31.7" width="1.05" height="4" fill="#4290e0"/><rect x="21.28" y="31.7" width="1.05" height="4" fill="#4492e0"/><rect x="22.9" y="31.7" width="1.05" height="4" fill="#4794e0"/><rect x="24.52" y="31.7" width="1.05" height="4" fill="#4a96e0"/><rect x="26.14" y="31.7" width="1.05" height="4" fill="#4c98e0"/><rect x="27.76" y="31.7" width="1.05" height="4" fill="#4f9ae0"/><rect x="29.38" y="31.7" width="1.05" height="4" fill="#529ce1"/><rect x="31" y="31.7" width="1.05" height="4" fill="#559ee1"/><rect x="32.62" y="31.7" width="1.05" height="4" fill="#57a0e1"/><rect x="34.24" y="31.7" width="1.05" height="4" fill="#5aa2e1"/><rect x="35.86" y="31.7" width="1.05" height="4" fill="#5da4e1"/><rect x="37.48" y="31.7" width="1.05" height="4" fill="#5fa6e1"/><rect x="39.1" y="31.7" width="1.05" height="4" fill="#62a8e1"/><rect x="40.72" y="31.7" width="1.05" height="4" fill="#65aae1"/><rect x="42.34" y="31.7" width="1.05" height="4" fill="#68ace2"/><rect x="43.96" y="31.7" width="1.05" height="4" fill="#6aaee2"/><rect x="45.58" y="31.7" width="1.05" height="4" fill="#6db0e2"/><rect x="47.2" y="31.7" width="1.05" height="4" fill="#70b2e2"/><rect x="48.82" y="31.7" width="1.05" height="4" fill="#72b4e2"/><rect x="50.44" y="31.7" width="1.05" height="4" fill="#75b6e2"/><rect x="52.06" y="31.7" width="1.05" height="4" fill="#78b8e2"/><rect x="53.68" y="31.7" width="1.05" height="4" fill="#7bbae2"/><text x="9.4" y="35.4" font-size="4.6" font-weight="700" fill="#9b9b9b" text-anchor="middle">A</text><rect x="14.8" y="44.3" width="1.05" height="4" fill="#3a8ae0"/><rect x="16.42" y="44.3" width="1.05" height="4" fill="#3c8ce0"/><rect x="18.04" y="44.3" width="1.05" height="4" fill="#3f8ee0"/><rect x="19.66" y="44.3" width="1.05" height="4" fill="#4290e0"/><rect x="21.28" y="44.3" width="1.05" height="4" fill="#4492e0"/><rect x="22.9" y="44.3" width="1.05" height="4" fill="#4794e0"/><rect x="24.52" y="44.3" width="1.05" height="4" fill="#4a96e0"/><rect x="26.14" y="44.3" width="1.05" height="4" fill="#4c98e0"/><rect x="27.76" y="44.3" width="1.05" height="4" fill="#4f9ae0"/><rect x="29.38" y="44.3" width="1.05" height="4" fill="#529ce1"/><rect x="31" y="44.3" width="1.05" height="4" fill="#559ee1"/><rect x="32.62" y="44.3" width="1.05" height="4" fill="#57a0e1"/><rect x="34.24" y="44.3" width="1.05" height="4" fill="#5aa2e1"/><rect x="35.86" y="44.3" width="1.05" height="4" fill="#5da4e1"/><rect x="37.48" y="44.3" width="1.05" height="4" fill="#5fa6e1"/><rect x="39.1" y="44.3" width="1.05" height="4" fill="#62a8e1"/><rect x="40.72" y="44.3" width="1.05" height="4" fill="#65aae1"/><rect x="42.34" y="44.3" width="1.05" height="4" fill="#68ace2"/><rect x="43.96" y="44.3" width="1.05" height="4" fill="#6aaee2"/><rect x="45.58" y="44.3" width="1.05" height="4" fill="#6db0e2"/><rect x="47.2" y="44.3" width="1.05" height="4" fill="#70b2e2"/><rect x="48.82" y="44.3" width="1.05" height="4" fill="#72b4e2"/><rect x="50.44" y="44.3" width="1.05" height="4" fill="#75b6e2"/><rect x="52.06" y="44.3" width="1.05" height="4" fill="#78b8e2"/><rect x="53.68" y="44.3" width="1.05" height="4" fill="#7bbae2"/><rect x="55.3" y="44.3" width="1.05" height="4" fill="#7dbce3"/><rect x="56.92" y="44.3" width="1.05" height="4" fill="#80bee3"/><rect x="58.54" y="44.3" width="1.05" height="4" fill="#83c0e3"/><rect x="60.16" y="44.3" width="1.05" height="4" fill="#85c2e3"/><rect x="61.78" y="44.3" width="1.05" height="4" fill="#88c4e3"/><rect x="63.4" y="44.3" width="1.05" height="4" fill="#8bc6e3"/><rect x="65.02" y="44.3" width="1.05" height="4" fill="#8ec8e3"/><rect x="66.64" y="44.3" width="1.05" height="4" fill="#90cae3"/><rect x="68.26" y="44.3" width="1.05" height="4" fill="#93cce4"/><rect x="69.88" y="44.3" width="1.05" height="4" fill="#96cee4"/><rect x="71.5" y="44.3" width="1.05" height="4" fill="#98d0e4"/><rect x="73.12" y="44.3" width="1.05" height="4" fill="#9bd2e4"/><rect x="74.74" y="44.3" width="1.05" height="4" fill="#9ed4e4"/><rect x="76.36" y="44.3" width="1.05" height="4" fill="#a1d6e4"/><rect x="77.98" y="44.3" width="1.05" height="4" fill="#a3d8e4"/><rect x="79.6" y="44.3" width="1.05" height="4" fill="#a6dbe4"/><rect x="81.22" y="44.3" width="1.05" height="4" fill="#a9dde4"/><rect x="82.84" y="44.3" width="1.05" height="4" fill="#abdfe5"/><rect x="84.46" y="44.3" width="1.05" height="4" fill="#aee1e5"/><rect x="86.08" y="44.3" width="1.05" height="4" fill="#b1e3e5"/><rect x="87.7" y="44.3" width="1.05" height="4" fill="#b4e5e5"/><rect x="89.32" y="44.3" width="1.05" height="4" fill="#b6e7e5"/><rect x="90.94" y="44.3" width="1.05" height="4" fill="#b9e9e5"/><rect x="92.56" y="44.3" width="1.05" height="4" fill="#bcebe5"/><rect x="94.18" y="44.3" width="1.05" height="4" fill="#beede5"/><text x="9.4" y="48" font-size="4.6" font-weight="700" fill="#9b9b9b" text-anchor="middle">B</text><rect x="14.8" y="57.6" width="1.05" height="4" fill="#3a8ae0"/><rect x="16.42" y="57.6" width="1.05" height="4" fill="#3c8ce0"/><rect x="18.04" y="57.6" width="1.05" height="4" fill="#3f8ee0"/><rect x="19.66" y="57.6" width="1.05" height="4" fill="#4290e0"/><rect x="21.28" y="57.6" width="1.05" height="4" fill="#4492e0"/><rect x="22.9" y="57.6" width="1.05" height="4" fill="#4794e0"/><rect x="24.52" y="57.6" width="1.05" height="4" fill="#4a96e0"/><rect x="26.14" y="57.6" width="1.05" height="4" fill="#4c98e0"/><rect x="27.76" y="57.6" width="1.05" height="4" fill="#4f9ae0"/><rect x="29.38" y="57.6" width="1.05" height="4" fill="#529ce1"/><rect x="31" y="57.6" width="1.05" height="4" fill="#559ee1"/><rect x="32.62" y="57.6" width="1.05" height="4" fill="#57a0e1"/><rect x="34.24" y="57.6" width="1.05" height="4" fill="#5aa2e1"/><rect x="35.86" y="57.6" width="1.05" height="4" fill="#5da4e1"/><rect x="37.48" y="57.6" width="1.05" height="4" fill="#5fa6e1"/><rect x="39.1" y="57.6" width="1.05" height="4" fill="#62a8e1"/><rect x="40.72" y="57.6" width="1.05" height="4" fill="#65aae1"/><rect x="42.34" y="57.6" width="1.05" height="4" fill="#68ace2"/><rect x="43.96" y="57.6" width="1.05" height="4" fill="#6aaee2"/><rect x="45.58" y="57.6" width="1.05" height="4" fill="#6db0e2"/><rect x="47.2" y="57.6" width="1.05" height="4" fill="#70b2e2"/><rect x="48.82" y="57.6" width="1.05" height="4" fill="#72b4e2"/><rect x="50.44" y="57.6" width="1.05" height="4" fill="#75b6e2"/><rect x="52.06" y="57.6" width="1.05" height="4" fill="#78b8e2"/><rect x="53.68" y="57.6" width="1.05" height="4" fill="#7bbae2"/><rect x="55.3" y="57.6" width="1.05" height="4" fill="#7dbce3"/><rect x="56.92" y="57.6" width="1.05" height="4" fill="#80bee3"/><rect x="58.54" y="57.6" width="1.05" height="4" fill="#83c0e3"/><rect x="60.16" y="57.6" width="1.05" height="4" fill="#85c2e3"/><rect x="61.78" y="57.6" width="1.05" height="4" fill="#88c4e3"/><rect x="63.4" y="57.6" width="1.05" height="4" fill="#8bc6e3"/><rect x="65.02" y="57.6" width="1.05" height="4" fill="#8ec8e3"/><rect x="66.64" y="57.6" width="1.05" height="4" fill="#90cae3"/><rect x="68.26" y="57.6" width="1.05" height="4" fill="#93cce4"/><rect x="69.88" y="57.6" width="1.05" height="4" fill="#96cee4"/><rect x="71.5" y="57.6" width="1.05" height="4" fill="#98d0e4"/><rect x="73.12" y="57.6" width="1.05" height="4" fill="#9bd2e4"/><rect x="74.74" y="57.6" width="1.05" height="4" fill="#9ed4e4"/><rect x="76.36" y="57.6" width="1.05" height="4" fill="#a1d6e4"/><rect x="77.98" y="57.6" width="1.05" height="4" fill="#a3d8e4"/><text x="9.4" y="61.3" font-size="4.6" font-weight="700" fill="#9b9b9b" text-anchor="middle">C</text></svg>
<div style="left:486.2px;top:246px;width:110.6px;height:82px;background:#1d1e20;border-radius:1.5px;"></div>
<div style="left:486.2px;top:246px;width:110.6px;height:16.4px;background:#27282a;border-radius:1.5px 1.5px 0 0;"></div>
<div class="t" style="top:250.6px;font-size:8px;line-height:10.4px;color:#d0d0d0;left:494.2px;"><span style="display:inline-block;transform:scaleX(0.93);transform-origin:0 50%;">Mixed Line and Bar</span></div>
<svg style="left:486.2px;top:246px;font-family:'Liberation Sans',sans-serif;" width="110.6" height="82" viewBox="0 0 110.6 82"><path d="M18 30.6H102" stroke="#343537" stroke-width="0.7"/><path d="M18 41H102" stroke="#343537" stroke-width="0.7"/><path d="M18 51.4H102" stroke="#343537" stroke-width="0.7"/><path d="M18 62.4H102" stroke="#8c8c8c" stroke-width="0.9"/><text x="9.2" y="32.2" font-size="4.6" font-weight="700" fill="#9b9b9b">300</text><text x="9.2" y="42.6" font-size="4.6" font-weight="700" fill="#9b9b9b">200</text><text x="9.2" y="53" font-size="4.6" font-weight="700" fill="#9b9b9b">100</text><text x="9.2" y="63.2" font-size="4.6" font-weight="700" fill="#9b9b9b">0</text><rect x="26.4" y="51" width="3" height="11.4" rx="0.7" fill="url(#b2)"/><rect x="29" y="43.6" width="3" height="18.8" rx="0.7" fill="url(#b3)"/><rect x="42.4" y="38.6" width="3" height="23.8" rx="0.7" fill="url(#b2)"/><rect x="45" y="45" width="3" height="17.4" rx="0.7" fill="url(#b3)"/><rect x="57.6" y="48" width="3" height="14.4" rx="0.7" fill="url(#b2)"/><rect x="60.2" y="50.6" width="3" height="11.8" rx="0.7" fill="url(#b3)"/><rect x="73.4" y="38" width="3" height="24.4" rx="0.7" fill="url(#b2)"/><rect x="76" y="32.4" width="3" height="30" rx="0.7" fill="url(#b3)"/><rect x="89" y="37.6" width="3" height="24.8" rx="0.7" fill="url(#b2)"/><rect x="91.6" y="45" width="3" height="17.4" rx="0.7" fill="url(#b3)"/><path d="M30 52.6L46.4 37.6L61.8 43.2L77.4 29.6L92.6 35.2" fill="none" stroke="#3b78c8" stroke-width="0.8"/><circle cx="46.4" cy="37.6" r="1.1" fill="#e6f4ff" stroke="#5a9ae0" stroke-width="0.4"/><circle cx="61.8" cy="43.2" r="1.1" fill="#e6f4ff" stroke="#5a9ae0" stroke-width="0.4"/><circle cx="77.4" cy="29.6" r="1.1" fill="#e6f4ff" stroke="#5a9ae0" stroke-width="0.4"/><circle cx="92.6" cy="35.2" r="1.1" fill="#e6f4ff" stroke="#5a9ae0" stroke-width="0.4"/></svg></div></div>
<!-- s_right -->
<div style="left:878px;top:31px;width:202px;height:485px;background:#1f1f1f;"></div>
<div class="t" style="top:34.4px;font-size:8.3px;line-height:10.8px;color:#989898;left:883px;"><span style="display:inline-block;transform:scaleX(0.9);transform-origin:0 50%;">Background</span></div>
<div style="left:926.4px;top:31.8px;width:95.4px;height:15.6px;background:#161616;border:1px solid #101010;border-radius:2px;box-shadow:0 0 0 0.5px #262626;"></div>
<div style="left:1009.4px;top:34px;width:11px;height:11px;background:#d9d9d9;border:1px solid #8f8f8f;"></div><svg style="left:1010.4px;top:35px;" width="9" height="9" viewBox="0 0 9 9"><path d="M0 0H5.2Q5.4 3.4 9 4V9H0Z" fill="#f4f4f4"/><path d="M5.2 0H9V4Q5.4 3.4 5.2 0Z" fill="#bcbcbc"/></svg>
<div style="left:1029.4px;top:31.8px;width:27.6px;height:15.6px;background:#161616;border:1px solid #101010;border-radius:2px;box-shadow:0 0 0 0.5px #262626;"></div>
<div class="t" style="top:34px;font-size:8.6px;line-height:11.2px;color:#f2f2f2;left:1033.6px;"><span style="display:inline-block;transform:scaleX(0.87);transform-origin:0 50%;">1.00</span></div>
<div style="left:1056px;top:31.4px;width:14.8px;height:16.4px;background:#1a1a1a;border:1px solid #131313;border-radius:0 2px 2px 0;"></div><svg style="left:1060px;top:33px;" width="6.8" height="13.2" viewBox="0 0 6 12.4"><path d="M3 0.6V5M0.6 2.8H5.4M0.8 9.8H5.2" fill="none" stroke="#cfcfcf" stroke-width="0.9"/></svg>
<div class="t" style="top:56px;font-size:8.3px;line-height:10.8px;color:#989898;left:883px;"><span style="display:inline-block;transform:scaleX(0.91);transform-origin:0 50%;">Position</span></div>
<div class="t" style="top:56px;font-size:8.3px;line-height:10.8px;color:#8c8c8c;left:720.4px;width:400px;text-align:center;">X</div>
<div style="left:926.4px;top:53px;width:42.4px;height:16.4px;background:#161616;border:1px solid #101010;border-radius:2px;box-shadow:0 0 0 0.5px #262626;"></div>
<div class="t" style="top:55.6px;font-size:8.6px;line-height:11.2px;color:#f2f2f2;left:929.8px;"><span style="display:inline-block;transform:scaleX(0.9);transform-origin:0 50%;">765.4</span></div>
<div style="left:968.8px;top:53px;width:14.8px;height:16.4px;background:#1a1a1a;border:1px solid #131313;border-radius:0 2px 2px 0;"></div><svg style="left:972.8px;top:54.6px;" width="6.8" height="13.2" viewBox="0 0 6 12.4"><path d="M3 0.6V5M0.6 2.8H5.4M0.8 9.8H5.2" fill="none" stroke="#cfcfcf" stroke-width="0.9"/></svg>
<div class="t" style="top:56px;font-size:8.3px;line-height:10.8px;color:#5c5c5c;left:802.6px;width:400px;text-align:center;">Y</div>
<div style="left:1010px;top:53px;width:43.4px;height:16.4px;background:#161616;border:1px solid #101010;border-radius:2px;box-shadow:0 0 0 0.5px #262626;"></div>
<div class="t" style="top:55.6px;font-size:8.6px;line-height:11.2px;color:#f2f2f2;left:1013.6px;"><span style="display:inline-block;transform:scaleX(0.91);transform-origin:0 50%;">435.52</span></div>
<div style="left:1052.8px;top:53px;width:14.8px;height:16.4px;background:#1a1a1a;border:1px solid #131313;border-radius:0 2px 2px 0;"></div><svg style="left:1056.8px;top:54.6px;" width="6.8" height="13.2" viewBox="0 0 6 12.4"><path d="M3 0.6V5M0.6 2.8H5.4M0.8 9.8H5.2" fill="none" stroke="#cfcfcf" stroke-width="0.9"/></svg>
<div class="t" style="top:78.4px;font-size:8.3px;line-height:10.8px;color:#989898;left:883px;"><span style="display:inline-block;transform:scaleX(0.81);transform-origin:0 50%;">Size</span></div>
<div class="t" style="top:78.4px;font-size:8.3px;line-height:10.8px;color:#8c8c8c;left:720.4px;width:400px;text-align:center;">W</div>
<div style="left:926.4px;top:75.4px;width:42.4px;height:16.4px;background:#161616;border:1px solid #101010;border-radius:2px;box-shadow:0 0 0 0.5px #262626;"></div>
<div class="t" style="top:78px;font-size:8.6px;line-height:11.2px;color:#f2f2f2;left:929.8px;"><span style="display:inline-block;transform:scaleX(0.91);transform-origin:0 50%;">662.62</span></div>
<div style="left:968.8px;top:75.4px;width:14.8px;height:16.4px;background:#1a1a1a;border:1px solid #131313;border-radius:0 2px 2px 0;"></div><svg style="left:972.8px;top:77px;" width="6.8" height="13.2" viewBox="0 0 6 12.4"><path d="M3 0.6V5M0.6 2.8H5.4M0.8 9.8H5.2" fill="none" stroke="#cfcfcf" stroke-width="0.9"/></svg>
<div class="t" style="top:78.4px;font-size:8.3px;line-height:10.8px;color:#5c5c5c;left:802.6px;width:400px;text-align:center;">H</div>
<div style="left:1010px;top:75.4px;width:43.4px;height:16.4px;background:#161616;border:1px solid #101010;border-radius:2px;box-shadow:0 0 0 0.5px #262626;"></div>
<div class="t" style="top:78px;font-size:8.6px;line-height:11.2px;color:#f2f2f2;left:1013.6px;"><span style="display:inline-block;transform:scaleX(0.88);transform-origin:0 50%;">260</span></div>
<div style="left:1052.8px;top:75.4px;width:14.8px;height:16.4px;background:#1a1a1a;border:1px solid #131313;border-radius:0 2px 2px 0;"></div><svg style="left:1056.8px;top:77px;" width="6.8" height="13.2" viewBox="0 0 6 12.4"><path d="M3 0.6V5M0.6 2.8H5.4M0.8 9.8H5.2" fill="none" stroke="#cfcfcf" stroke-width="0.9"/></svg>
<div class="t" style="top:100.4px;font-size:8.3px;line-height:10.8px;color:#989898;left:883px;"><span style="display:inline-block;transform:scaleX(0.94);transform-origin:0 50%;">Rotate</span></div>
<div class="t" style="top:100.4px;font-size:8.3px;line-height:10.8px;color:#8c8c8c;left:719.6px;width:400px;text-align:center;">X</div>
<div style="left:926.4px;top:97.4px;width:23.2px;height:16.4px;background:#161616;border:1px solid #101010;border-radius:2px;box-shadow:0 0 0 0.5px #262626;"></div>
<div class="t" style="top:100px;font-size:8.6px;line-height:11.2px;color:#f2f2f2;left:930px;">0</div>
<div style="left:950.2px;top:97.4px;width:14.8px;height:16.4px;background:#1a1a1a;border:1px solid #131313;border-radius:0 2px 2px 0;"></div><svg style="left:954.2px;top:99px;" width="6.8" height="13.2" viewBox="0 0 6 12.4"><path d="M3 0.6V5M0.6 2.8H5.4M0.8 9.8H5.2" fill="none" stroke="#cfcfcf" stroke-width="0.9"/></svg>
<div class="t" style="top:100.4px;font-size:8.3px;line-height:10.8px;color:#5c5c5c;left:770.6px;width:400px;text-align:center;">Y</div>
<div style="left:978px;top:97.4px;width:23.4px;height:16.4px;background:#161616;border:1px solid #101010;border-radius:2px;box-shadow:0 0 0 0.5px #262626;"></div>
<div class="t" style="top:100px;font-size:8.6px;line-height:11.2px;color:#f2f2f2;left:981.6px;">0</div>
<div style="left:1001.2px;top:97.4px;width:14.8px;height:16.4px;background:#1a1a1a;border:1px solid #131313;border-radius:0 2px 2px 0;"></div><svg style="left:1005.2px;top:99px;" width="6.8" height="13.2" viewBox="0 0 6 12.4"><path d="M3 0.6V5M0.6 2.8H5.4M0.8 9.8H5.2" fill="none" stroke="#cfcfcf" stroke-width="0.9"/></svg>
<div class="t" style="top:100.4px;font-size:8.3px;line-height:10.8px;color:#5c5c5c;left:822px;width:400px;text-align:center;">Z</div>
<div style="left:1029.4px;top:97.4px;width:24px;height:16.4px;background:#161616;border:1px solid #101010;border-radius:2px;box-shadow:0 0 0 0.5px #262626;"></div>
<div class="t" style="top:100px;font-size:8.6px;line-height:11.2px;color:#f2f2f2;left:1033px;">0</div>
<div style="left:1054px;top:97.4px;width:14.8px;height:16.4px;background:#1a1a1a;border:1px solid #131313;border-radius:0 2px 2px 0;"></div><svg style="left:1058px;top:99px;" width="6.8" height="13.2" viewBox="0 0 6 12.4"><path d="M3 0.6V5M0.6 2.8H5.4M0.8 9.8H5.2" fill="none" stroke="#cfcfcf" stroke-width="0.9"/></svg>
<div class="t" style="top:121.6px;font-size:8.3px;line-height:10.8px;color:#989898;left:883px;"><span style="display:inline-block;transform:scaleX(0.9);transform-origin:0 50%;">Transformations</span></div>
<svg style="left:945.4px;top:121.1px;font-family:'Liberation Sans',sans-serif;" width="12" height="12" viewBox="0 0 12 12"><circle cx="6" cy="6" r="4.9" fill="none" stroke="#d0d0d0" stroke-width="1"/><text x="6" y="7.7" font-size="4.4" font-weight="700" fill="#d0d0d0" text-anchor="middle">90°</text><path d="M9.2 0.6L11.4 2.6L8.6 3.4Z" fill="#d0d0d0"/></svg>
<svg style="left:963.2px;top:121.1px;font-family:'Liberation Sans',sans-serif;" width="12" height="12" viewBox="0 0 12 12"><circle cx="6" cy="6" r="4.9" fill="none" stroke="#d0d0d0" stroke-width="1"/><text x="6" y="7.7" font-size="4.4" font-weight="700" fill="#d0d0d0" text-anchor="middle">90°</text><path d="M2.8 0.6L0.6 2.6L3.4 3.4Z" fill="#d0d0d0"/></svg>
<svg style="left:981px;top:121.1px;" width="12" height="12" viewBox="0 0 12 12"><path d="M5.9 1.2V10.8H1.4Z" fill="#3c3c3c" stroke="#d0d0d0" stroke-width="0.7"/><path d="M6.1 0.8L10.9 11H6.1Z" fill="#d0d0d0"/></svg>
<svg style="left:998.4px;top:121.1px;" width="12" height="12" viewBox="0 0 12 12"><path d="M1.3 5.9L10.8 1.4V5.9Z" fill="#3c3c3c" stroke="#d0d0d0" stroke-width="0.7"/><path d="M0.8 6.1H11V10.9Z" fill="#d0d0d0"/></svg>
<svg style="left:1016px;top:121.1px;" width="12" height="12" viewBox="0 0 12 12"><g transform="translate(12 0) scale(-1 1)"><path d="M1 11L7.2 4.8" stroke="#d0d0d0" stroke-width="2"/><path d="M8.6 0.4L9.2 2.2L11 2.8L9.2 3.4L8.6 5.2L8 3.4L6.2 2.8L8 2.2Z" fill="#d0d0d0"/><path d="M3.4 0.8L3.8 1.8L4.8 2.2L3.8 2.6L3.4 3.6L3 2.6L2 2.2L3 1.8Z M10.2 6.8L10.7 8L11.9 8.5L10.7 9L10.2 10.2L9.7 9L8.5 8.5L9.7 8Z" fill="#d0d0d0"/></g></svg>
<svg style="left:1034px;top:121.1px;" width="12" height="12" viewBox="0 0 12 12"><path d="M1.4 5A4.8 4.8 0 0 1 10 3.4M10.6 7A4.8 4.8 0 0 1 2 8.6" fill="none" stroke="#d0d0d0" stroke-width="1.5"/><path d="M11.4 0.8V4.6H7.6Z M0.6 11.2V7.4H4.4Z" fill="#d0d0d0"/></svg>
<div style="left:878px;top:139.4px;width:202px;height:26.2px;background:#2b2b2b;"></div>
<div class="t" style="top:146.8px;font-size:9.2px;line-height:12px;color:#c4c4c4;font-weight:700;left:886px;"><span style="display:inline-block;transform:scaleX(0.91);transform-origin:0 50%;">Graph</span></div>
<div class="t" style="top:146.8px;font-size:9.2px;line-height:12px;color:#c4c4c4;font-weight:700;left:917.4px;"><span style="display:inline-block;transform:scaleX(0.92);transform-origin:0 50%;">Coordinate</span></div>
<div class="t" style="top:146.8px;font-size:9.2px;line-height:12px;color:#c4c4c4;font-weight:700;left:966.6px;"><span style="display:inline-block;transform:scaleX(0.91);transform-origin:0 50%;">Legend</span></div>
<div class="t" style="top:146.8px;font-size:9.2px;line-height:12px;color:#ee9448;font-weight:700;left:1008px;"><span style="display:inline-block;transform:scaleX(0.87);transform-origin:0 50%;">Series</span></div>
<div class="t" style="top:146.8px;font-size:9.2px;line-height:12px;color:#c4c4c4;font-weight:700;left:1045px;"><span style="display:inline-block;transform:scaleX(0.92);transform-origin:0 50%;">Tooltip</span></div>
<div style="left:878px;top:165.6px;width:202px;height:25.2px;background:#1c1c1c;"></div>
<div style="left:882px;top:169.2px;width:55.8px;height:18.4px;background:#1a1a1a;border:1px solid #5c5c5c;border-radius:2px;"></div>
<div class="t" style="top:172.75px;font-size:8.4px;line-height:10.9px;color:#969696;left:709.8px;width:400px;text-align:center;"><span style="display:inline-block;transform:scaleX(0.9);transform-origin:50% 50%;">Add Series</span></div>
<div style="left:878px;top:190.8px;width:202px;height:25.8px;background:#2b2b2b;"></div>
<div class="t" style="top:198.7px;font-size:9.4px;line-height:12.2px;color:#f2f2f2;font-weight:700;left:890.8px;"><span style="display:inline-block;transform:scaleX(0.91);transform-origin:0 50%;">Category</span></div>
<div class="t" style="top:198.7px;font-size:9.4px;line-height:12.2px;color:#ee9448;font-weight:700;left:940.4px;"><span style="display:inline-block;transform:scaleX(0.87);transform-origin:0 50%;">Series Revenue</span></div>
<div class="t" style="top:224.8px;font-size:8.3px;line-height:10.8px;color:#989898;left:883px;"><span style="display:inline-block;transform:scaleX(0.88);transform-origin:0 50%;">Custom Fields</span></div>
<div style="left:936px;top:224px;width:24.6px;height:12.4px;background:#1b1b1b;border:1px solid #3c3c3c;border-radius:6.2px;"></div><div style="left:937.8px;top:225.8px;width:8.8px;height:8.8px;background:#515151;border-radius:50%;"></div>
<div class="t" style="top:247.2px;font-size:8.3px;line-height:10.8px;color:#989898;left:883px;"><span style="display:inline-block;transform:scaleX(0.87);transform-origin:0 50%;">Field</span></div>
<div style="left:916.8px;top:243.6px;width:54.4px;height:16px;background:#161616;border:1px solid #101010;border-radius:2px;box-shadow:0 0 0 0.5px #262626;"></div>
<div class="t" style="top:245.5px;font-size:8.8px;line-height:11.4px;color:#f2f2f2;left:920.6px;text-shadow:0 0 0.4px #fff;"><span style="display:inline-block;transform:scaleX(0.87);transform-origin:0 50%;">mtds_ratio</span></div>
<svg style="left:958.27px;top:250.16px;" width="6.26" height="3.68" viewBox="0 0 6.8 4"><path d="M0.5 0.5L3.4 3.4L6.3 0.5" fill="none" stroke="#d8d8d8" stroke-width="1"/></svg>
<div class="t" style="top:247.2px;font-size:8.3px;line-height:10.8px;color:#747474;left:982.6px;"><span style="display:inline-block;transform:scaleX(0.86);transform-origin:0 50%;">Series Name</span></div>
<div style="left:1029.4px;top:243.6px;width:41.6px;height:16px;background:#161616;border:1px solid #101010;border-radius:2px;box-shadow:0 0 0 0.5px #262626;"></div>
<div class="t" style="top:245.5px;font-size:8.8px;line-height:11.4px;color:#f2f2f2;left:1032.8px;text-shadow:0 0 0.4px #fff;"><span style="display:inline-block;transform:scaleX(0.87);transform-origin:0 50%;">Revenue</span></div>
<div class="t" style="top:269.4px;font-size:8.3px;line-height:10.8px;color:#989898;left:883px;"><span style="display:inline-block;transform:scaleX(0.86);transform-origin:0 50%;">Type</span></div>
<div style="left:916.8px;top:266px;width:54.4px;height:16px;background:#161616;border:1px solid #101010;border-radius:2px;box-shadow:0 0 0 0.5px #262626;"></div>
<div class="t" style="top:268.1px;font-size:8.8px;line-height:11.4px;color:#f2f2f2;left:920.6px;text-shadow:0 0 0.4px #fff;"><span style="display:inline-block;transform:scaleX(0.86);transform-origin:0 50%;">Line</span></div>
<svg style="left:958.27px;top:272.36px;" width="6.26" height="3.68" viewBox="0 0 6.8 4"><path d="M0.5 0.5L3.4 3.4L6.3 0.5" fill="none" stroke="#d8d8d8" stroke-width="1"/></svg>
<div class="t" style="top:269.4px;font-size:8.3px;line-height:10.8px;color:#747474;left:982.6px;"><span style="display:inline-block;transform:scaleX(0.85);transform-origin:0 50%;">Axis</span></div>
<div style="left:1016px;top:266px;width:55px;height:16px;background:#161616;border:1px solid #101010;border-radius:2px;box-shadow:0 0 0 0.5px #262626;"></div>
<div class="t" style="top:268.1px;font-size:8.8px;line-height:11.4px;color:#f2f2f2;left:1020.2px;text-shadow:0 0 0.4px #fff;"><span style="display:inline-block;transform:scaleX(0.88);transform-origin:0 50%;">Vertical Axis</span></div>
<svg style="left:1062.9px;top:272px;" width="3.4" height="2" viewBox="0 0 6.8 4"><path d="M0.5 0.5L3.4 3.4L6.3 0.5" fill="none" stroke="#d8d8d8" stroke-width="1"/></svg>
<div class="t" style="top:291.2px;font-size:8.3px;line-height:10.8px;color:#989898;left:883px;"><span style="display:inline-block;transform:scaleX(0.89);transform-origin:0 50%;">Set Empty</span></div>
<div style="left:929.4px;top:290px;width:24.6px;height:12.4px;background:#1b1b1b;border:1px solid #3c3c3c;border-radius:6.2px;"></div><div style="left:931.2px;top:291.8px;width:8.8px;height:8.8px;background:#515151;border-radius:50%;"></div>
<svg style="left:961.4px;top:291.6px;font-family:'Liberation Sans',sans-serif;" width="9" height="9" viewBox="0 0 9 9"><circle cx="4.5" cy="4.5" r="3.9" fill="none" stroke="#c4c4c4" stroke-width="0.8"/><text x="4.5" y="6.6" font-size="5.6" font-weight="700" fill="#c4c4c4" text-anchor="middle">?</text></svg>
<div style="left:878px;top:307.4px;width:202px;height:25.8px;background:#272727;border-top:1px solid #303030;"></div>
<svg style="left:886px;top:318.2px;" width="6.8" height="4" viewBox="0 0 6.8 4"><path d="M0.5 0.5L3.4 3.4L6.3 0.5" fill="none" stroke="#e0e0e0" stroke-width="1"/></svg>
<div class="t" style="top:314.7px;font-size:8.8px;line-height:11.4px;color:#e2e2e2;left:897.6px;"><span style="display:inline-block;transform:scaleX(0.79);transform-origin:0 50%;">Line Style</span></div>
<div class="t" style="top:339.8px;font-size:8.3px;line-height:10.8px;color:#989898;left:883px;"><span style="display:inline-block;transform:scaleX(0.88);transform-origin:0 50%;">Line Color</span></div>
<div style="left:930.4px;top:337px;width:140.6px;height:16.2px;background:#161616;border:1px solid #101010;border-radius:2px;box-shadow:0 0 0 0.5px #262626;"></div>
<div style="left:1058px;top:339.6px;width:11px;height:11px;background:#d9d9d9;border:1px solid #8f8f8f;"></div><svg style="left:1059px;top:340.6px;" width="9" height="9" viewBox="0 0 9 9"><path d="M0 0H5.2Q5.4 3.4 9 4V9H0Z" fill="#f4f4f4"/><path d="M5.2 0H9V4Q5.4 3.4 5.2 0Z" fill="#bcbcbc"/></svg>
<div class="t" style="top:360.6px;font-size:8.3px;line-height:10.8px;color:#989898;left:883px;"><span style="display:inline-block;transform:scaleX(0.9);transform-origin:0 50%;">Gradient</span></div>
<div style="left:929.4px;top:360px;width:24.6px;height:12.4px;background:#1b1b1b;border:1px solid #3c3c3c;border-radius:6.2px;"></div><div style="left:931.2px;top:361.8px;width:8.8px;height:8.8px;background:#515151;border-radius:50%;"></div>
<div class="t" style="top:382.4px;font-size:8.3px;line-height:10.8px;color:#989898;left:883px;"><span style="display:inline-block;transform:scaleX(0.9);transform-origin:0 50%;">Line Width</span></div>
<div style="left:930.4px;top:379px;width:140.6px;height:16.2px;background:#161616;border:1px solid #101010;border-radius:2px;box-shadow:0 0 0 0.5px #262626;"></div>
<div class="t" style="top:381.1px;font-size:8.8px;line-height:11.4px;color:#f2f2f2;left:933.6px;">2</div>
<div style="left:1056.2px;top:379px;width:14.8px;height:16.4px;background:#1a1a1a;border:1px solid #131313;border-radius:0 2px 2px 0;"></div><svg style="left:1060.2px;top:380.6px;" width="6.8" height="13.2" viewBox="0 0 6 12.4"><path d="M3 0.6V5M0.6 2.8H5.4M0.8 9.8H5.2" fill="none" stroke="#cfcfcf" stroke-width="0.9"/></svg>
<div class="t" style="top:403.2px;font-size:8.3px;line-height:10.8px;color:#989898;left:883px;"><span style="display:inline-block;transform:scaleX(0.9);transform-origin:0 50%;">Line type</span></div>
<div style="left:918.6px;top:399.6px;width:152.4px;height:16.2px;background:#161616;border:1px solid #101010;border-radius:2px;box-shadow:0 0 0 0.5px #262626;"></div>
<div class="t" style="top:401.5px;font-size:8.8px;line-height:11.4px;color:#f2f2f2;left:923.6px;text-shadow:0 0 0.4px #fff;"><span style="display:inline-block;transform:scaleX(0.88);transform-origin:0 50%;">Full Line</span></div>
<svg style="left:1056.8px;top:406.2px;" width="6.8" height="4" viewBox="0 0 6.8 4"><path d="M0.5 0.5L3.4 3.4L6.3 0.5" fill="none" stroke="#e6e6e6" stroke-width="1"/></svg>
<div class="t" style="top:424px;font-size:8.3px;line-height:10.8px;color:#989898;left:883px;"><span style="display:inline-block;transform:scaleX(0.86);transform-origin:0 50%;">Staircase Chart</span></div>
<div style="left:955.6px;top:422.6px;width:24.6px;height:12.4px;background:#1b1b1b;border:1px solid #3c3c3c;border-radius:6.2px;"></div><div style="left:957.4px;top:424.4px;width:8.8px;height:8.8px;background:#515151;border-radius:50%;"></div>
<div class="t" style="top:445px;font-size:8.3px;line-height:10.8px;color:#989898;left:883px;"><span style="display:inline-block;transform:scaleX(0.9);transform-origin:0 50%;">Smooth Curve</span></div>
<div style="left:955.6px;top:443.6px;width:24.6px;height:12.4px;background:#1d1a17;border:1px solid #b9772f;border-radius:6.2px;"></div><div style="left:969px;top:445.2px;width:9.2px;height:9.2px;background:#ee9130;border-radius:50%;"></div>
<div class="t" style="top:466px;font-size:8.3px;line-height:10.8px;color:#989898;left:883px;"><span style="display:inline-block;transform:scaleX(0.89);transform-origin:0 50%;">Region Filling</span></div>
<div style="left:955.6px;top:464.6px;width:24.6px;height:12.4px;background:#1d1a17;border:1px solid #b9772f;border-radius:6.2px;"></div><div style="left:969px;top:466.2px;width:9.2px;height:9.2px;background:#ee9130;border-radius:50%;"></div>
<div class="t" style="top:486.2px;font-size:8.3px;line-height:10.8px;color:#989898;left:883px;"><span style="display:inline-block;transform:scaleX(0.91);transform-origin:0 50%;">Fill Gradient</span></div>
<div style="left:955.6px;top:485.4px;width:24.6px;height:12.4px;background:#1d1a17;border:1px solid #b9772f;border-radius:6.2px;"></div><div style="left:969px;top:487px;width:9.2px;height:9.2px;background:#ee9130;border-radius:50%;"></div>
<div class="t" style="top:508.8px;font-size:8.3px;line-height:10.8px;color:#989898;left:883px;"><span style="display:inline-block;transform:scaleX(0.91);transform-origin:0 50%;">Gradient Type</span></div>
<div style="left:961.2px;top:504.8px;width:109.8px;height:16.2px;background:#161616;border:1px solid #101010;border-radius:2px;box-shadow:0 0 0 0.5px #262626;"></div>
<div class="t" style="top:506.9px;font-size:8.8px;line-height:11.4px;color:#f2f2f2;left:964.8px;text-shadow:0 0 0.4px #fff;"><span style="display:inline-block;transform:scaleX(0.87);transform-origin:0 50%;">Linear Gradient</span></div>
<svg style="left:1056.8px;top:512px;" width="6.8" height="4" viewBox="0 0 6.8 4"><path d="M0.5 0.5L3.4 3.4L6.3 0.5" fill="none" stroke="#e6e6e6" stroke-width="1"/></svg>
<div style="left:1076.6px;top:31px;width:3.4px;height:67px;background:#1a1a1a;"></div>
<div style="left:1076.6px;top:98px;width:3.4px;height:41.4px;background:#3a3a3a;border-radius:1.5px 1.5px 0 0;"></div>
<!-- s_bottom -->
<div style="left:176px;top:492.4px;width:702px;height:23.6px;background:#1e1e1e;"></div>
<div style="left:190px;top:489.4px;width:688px;height:3px;background:#050505;"></div>
<div style="left:421.6px;top:489.6px;width:301.6px;height:2.8px;background:#2a2a2a;"></div>
<div class="t" style="top:500.8px;font-size:8.6px;line-height:11.2px;color:#9e9e9e;left:182.4px;"><span style="display:inline-block;transform:scaleX(0.94);transform-origin:0 50%;">V3.0.3</span></div>
<div class="t" style="top:500.95px;font-size:8.4px;line-height:10.9px;color:#ee9650;left:548.4px;"><span style="display:inline-block;transform:scaleX(0.89);transform-origin:0 50%;">Scene Config</span></div>
<svg style="left:647.6px;top:501.4px;" width="11" height="9.6" viewBox="0 0 11 9.6"><path d="M0.6 2.6H2.8L3.8 0.8H7.2L8.2 2.6H10.4V9H0.6Z" fill="none" stroke="#e4e4e4" stroke-width="1.1"/><circle cx="5.5" cy="5.6" r="1.9" fill="none" stroke="#e4e4e4" stroke-width="1.1"/></svg>
<svg style="left:704.4px;top:502.6px;" width="10.8" height="7.6" viewBox="0 0 10.8 7.6"><rect x="0.5" y="0.5" width="9.8" height="6.6" fill="none" stroke="#d0d0d0" stroke-width="1"/><path d="M2 2.4H8.8M2 4H8.8M3 5.6H7.8" stroke="#d0d0d0" stroke-width="0.8" stroke-dasharray="0.9 0.5"/></svg>
<div style="left:730.6px;top:506px;width:9px;height:1px;background:#8c8c8c;"></div>
<div style="left:744.4px;top:505.6px;width:70.6px;height:1.4px;background:#d8663a;"></div>
<div style="left:744.4px;top:505.6px;width:20px;height:1.4px;background:#b9b9b9;"></div>
<div style="left:762.6px;top:503.6px;width:5.2px;height:5.4px;background:#f4f4f4;"></div>
<div style="left:820.4px;top:506px;width:8.6px;height:1px;background:#8c8c8c;"></div>
<div style="left:824.2px;top:502px;width:1px;height:8.8px;background:#8c8c8c;"></div>
<div style="left:846px;top:492.4px;width:1px;height:23.6px;background:#111111;"></div>
<div class="t" style="top:500.95px;font-size:8.4px;line-height:10.9px;color:#a4a4a4;left:662.4px;width:400px;text-align:center;"><span style="display:inline-block;transform:scaleX(0.92);transform-origin:50% 50%;">66%</span></div>
<div style="left:875.4px;top:488px;width:3px;height:3px;background:#f0f0f0;"></div>
<!-- s_mark -->
<div class="t" style="left:894.4px;top:447.2px;font-size:38.6px;line-height:44.4px;font-weight:700;color:#f0911f;letter-spacing:-1.25px;transform-origin:0 0;transform:scaleX(1.66);opacity:0.97;">JEREI</div>
<div class="t" style="left:911.4px;top:485.8px;font-size:10.6px;line-height:14px;color:rgba(150,150,150,0.66);font-weight:700;font-family:'Liberation Sans','Noto Sans CJK SC',sans-serif;letter-spacing:4.4px;">捷瑞</div>
<div class="t" style="left:942.2px;top:485.4px;font-size:12.4px;line-height:15px;color:rgba(158,158,158,0.62);letter-spacing:3.05px;transform-origin:0 0;transform:scaleX(1.3);">DIGITAL</div>
<div class="t" style="left:1038.2px;top:485.8px;font-size:10.6px;line-height:14px;color:rgba(150,150,150,0.66);font-weight:700;font-family:'Liberation Sans','Noto Sans CJK SC',sans-serif;letter-spacing:4.4px;">数字</div>
</div></body></html>
